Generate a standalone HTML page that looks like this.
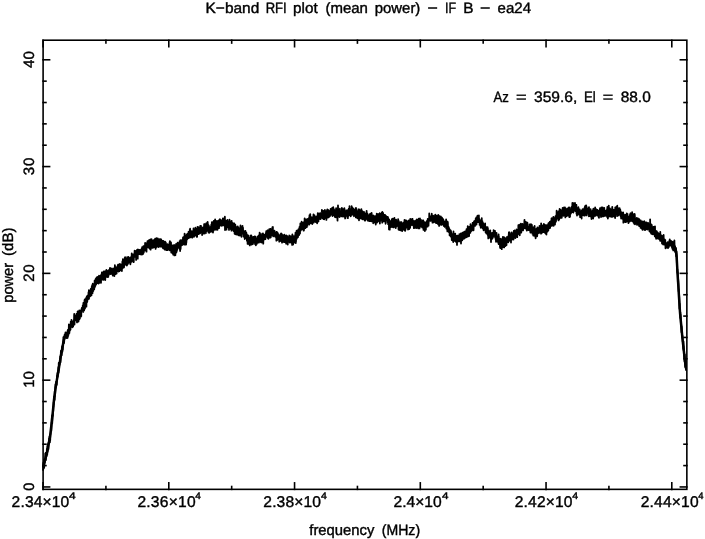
<!DOCTYPE html>
<html><head><meta charset="utf-8">
<style>
html,body{margin:0;padding:0;background:#fff;}
body{width:705px;height:539px;overflow:hidden;}
svg{display:block;filter:grayscale(1);}
text{font-family:"Liberation Sans",sans-serif;text-rendering:geometricPrecision;fill:#000;stroke:#000;stroke-width:0.4px;}
</style></head><body>
<svg width="705" height="539" viewBox="0 0 705 539">
<rect x="0" y="0" width="705" height="539" fill="#fff"/>
<g stroke="#000" fill="none" stroke-linecap="square">
<rect x="43.1" y="40.2" width="643.75" height="449.15" stroke-width="1.6"/>
<line x1="43.05" y1="489.35" x2="43.05" y2="482.85" stroke-width="1.6"/><line x1="43.05" y1="40.20" x2="43.05" y2="46.70" stroke-width="1.6"/><line x1="105.92" y1="489.35" x2="105.92" y2="486.50" stroke-width="1.6"/><line x1="105.92" y1="40.20" x2="105.92" y2="43.05" stroke-width="1.6"/><line x1="168.80" y1="489.35" x2="168.80" y2="482.85" stroke-width="1.6"/><line x1="168.80" y1="40.20" x2="168.80" y2="46.70" stroke-width="1.6"/><line x1="231.68" y1="489.35" x2="231.68" y2="486.50" stroke-width="1.6"/><line x1="231.68" y1="40.20" x2="231.68" y2="43.05" stroke-width="1.6"/><line x1="294.55" y1="489.35" x2="294.55" y2="482.85" stroke-width="1.6"/><line x1="294.55" y1="40.20" x2="294.55" y2="46.70" stroke-width="1.6"/><line x1="357.43" y1="489.35" x2="357.43" y2="486.50" stroke-width="1.6"/><line x1="357.43" y1="40.20" x2="357.43" y2="43.05" stroke-width="1.6"/><line x1="420.30" y1="489.35" x2="420.30" y2="482.85" stroke-width="1.6"/><line x1="420.30" y1="40.20" x2="420.30" y2="46.70" stroke-width="1.6"/><line x1="483.18" y1="489.35" x2="483.18" y2="486.50" stroke-width="1.6"/><line x1="483.18" y1="40.20" x2="483.18" y2="43.05" stroke-width="1.6"/><line x1="546.05" y1="489.35" x2="546.05" y2="482.85" stroke-width="1.6"/><line x1="546.05" y1="40.20" x2="546.05" y2="46.70" stroke-width="1.6"/><line x1="608.92" y1="489.35" x2="608.92" y2="486.50" stroke-width="1.6"/><line x1="608.92" y1="40.20" x2="608.92" y2="43.05" stroke-width="1.6"/><line x1="671.80" y1="489.35" x2="671.80" y2="482.85" stroke-width="1.6"/><line x1="671.80" y1="40.20" x2="671.80" y2="46.70" stroke-width="1.6"/><line x1="43.10" y1="486.95" x2="49.60" y2="486.95" stroke-width="1.6"/><line x1="686.85" y1="486.95" x2="680.35" y2="486.95" stroke-width="1.6"/><line x1="43.10" y1="465.59" x2="45.95" y2="465.59" stroke-width="1.6"/><line x1="686.85" y1="465.59" x2="684.00" y2="465.59" stroke-width="1.6"/><line x1="43.10" y1="444.23" x2="45.95" y2="444.23" stroke-width="1.6"/><line x1="686.85" y1="444.23" x2="684.00" y2="444.23" stroke-width="1.6"/><line x1="43.10" y1="422.88" x2="45.95" y2="422.88" stroke-width="1.6"/><line x1="686.85" y1="422.88" x2="684.00" y2="422.88" stroke-width="1.6"/><line x1="43.10" y1="401.52" x2="45.95" y2="401.52" stroke-width="1.6"/><line x1="686.85" y1="401.52" x2="684.00" y2="401.52" stroke-width="1.6"/><line x1="43.10" y1="380.16" x2="49.60" y2="380.16" stroke-width="1.6"/><line x1="686.85" y1="380.16" x2="680.35" y2="380.16" stroke-width="1.6"/><line x1="43.10" y1="358.80" x2="45.95" y2="358.80" stroke-width="1.6"/><line x1="686.85" y1="358.80" x2="684.00" y2="358.80" stroke-width="1.6"/><line x1="43.10" y1="337.44" x2="45.95" y2="337.44" stroke-width="1.6"/><line x1="686.85" y1="337.44" x2="684.00" y2="337.44" stroke-width="1.6"/><line x1="43.10" y1="316.09" x2="45.95" y2="316.09" stroke-width="1.6"/><line x1="686.85" y1="316.09" x2="684.00" y2="316.09" stroke-width="1.6"/><line x1="43.10" y1="294.73" x2="45.95" y2="294.73" stroke-width="1.6"/><line x1="686.85" y1="294.73" x2="684.00" y2="294.73" stroke-width="1.6"/><line x1="43.10" y1="273.37" x2="49.60" y2="273.37" stroke-width="1.6"/><line x1="686.85" y1="273.37" x2="680.35" y2="273.37" stroke-width="1.6"/><line x1="43.10" y1="252.01" x2="45.95" y2="252.01" stroke-width="1.6"/><line x1="686.85" y1="252.01" x2="684.00" y2="252.01" stroke-width="1.6"/><line x1="43.10" y1="230.65" x2="45.95" y2="230.65" stroke-width="1.6"/><line x1="686.85" y1="230.65" x2="684.00" y2="230.65" stroke-width="1.6"/><line x1="43.10" y1="209.30" x2="45.95" y2="209.30" stroke-width="1.6"/><line x1="686.85" y1="209.30" x2="684.00" y2="209.30" stroke-width="1.6"/><line x1="43.10" y1="187.94" x2="45.95" y2="187.94" stroke-width="1.6"/><line x1="686.85" y1="187.94" x2="684.00" y2="187.94" stroke-width="1.6"/><line x1="43.10" y1="166.58" x2="49.60" y2="166.58" stroke-width="1.6"/><line x1="686.85" y1="166.58" x2="680.35" y2="166.58" stroke-width="1.6"/><line x1="43.10" y1="145.22" x2="45.95" y2="145.22" stroke-width="1.6"/><line x1="686.85" y1="145.22" x2="684.00" y2="145.22" stroke-width="1.6"/><line x1="43.10" y1="123.86" x2="45.95" y2="123.86" stroke-width="1.6"/><line x1="686.85" y1="123.86" x2="684.00" y2="123.86" stroke-width="1.6"/><line x1="43.10" y1="102.51" x2="45.95" y2="102.51" stroke-width="1.6"/><line x1="686.85" y1="102.51" x2="684.00" y2="102.51" stroke-width="1.6"/><line x1="43.10" y1="81.15" x2="45.95" y2="81.15" stroke-width="1.6"/><line x1="686.85" y1="81.15" x2="684.00" y2="81.15" stroke-width="1.6"/><line x1="43.10" y1="59.79" x2="49.60" y2="59.79" stroke-width="1.6"/><line x1="686.85" y1="59.79" x2="680.35" y2="59.79" stroke-width="1.6"/>
</g>
<path d="M43 468.9 43.12 470.1 43.25 463.5 43.38 462.3 43.50 464.5 43.62 467.2 43.75 468.4 43.88 468.2 44 464.3 44.12 459.4 44.25 467.1 44.38 464.4 44.50 463.2 44.62 463.0 44.75 459.1 44.88 462.5 45 459.6 45.12 460.9 45.25 453.4 45.38 458.5 45.50 458.6 45.62 458.2 45.75 452.8 45.88 460.1 46 453.3 46.12 453.3 46.25 454.2 46.38 454.5 46.50 452.8 46.62 456.0 46.75 452.1 46.88 449.0 47 448.7 47.12 452.7 47.25 454.6 47.38 445.8 47.50 449.6 47.62 451.7 47.75 446.1 47.88 444.1 48 446.4 48.12 449.7 48.25 445.7 48.38 443.0 48.50 448.9 48.62 442.9 48.75 442.8 48.88 441.0 49 438.6 49.12 443.4 49.25 440.8 49.38 436.9 49.50 442.5 49.62 441.8 49.75 438.1 49.88 442.3 50 438.4 50.12 440.6 50.25 439.7 50.38 434.3 50.50 434.9 50.62 433.6 50.75 433.2 50.88 431.3 51 427.0 51.12 426.7 51.25 426.3 51.38 430.7 51.50 426.0 51.62 422.2 51.75 422.8 51.88 416.0 52 423.4 52.12 420.3 52.25 423.2 52.38 418.6 52.50 414.9 52.62 415.4 52.75 415.3 52.88 416.1 53 408.3 53.12 408.4 53.25 411.3 53.38 406.1 53.50 406.9 53.62 402.2 53.75 404.8 53.88 397.1 54 397.5 54.12 396.5 54.25 397.2 54.38 396.7 54.50 398.9 54.62 400.1 54.75 391.2 54.88 396.4 55 390.3 55.12 394.2 55.25 386.8 55.38 388.5 55.50 384.1 55.62 385.9 55.75 385.4 55.88 386.8 56 382.0 56.12 382.4 56.25 383.5 56.38 383.4 56.50 383.4 56.62 383.3 56.75 384.9 56.88 381.8 57 375.7 57.12 378.8 57.25 377.2 57.38 373.5 57.50 375.3 57.62 372.3 57.75 376.5 57.88 371.1 58 373.9 58.12 371.2 58.25 368.1 58.38 366.8 58.50 372.6 58.62 371.0 58.75 362.9 58.88 370.1 59 366.7 59.12 365.1 59.25 364.1 59.38 364.2 59.50 365.0 59.62 364.0 59.75 362.7 59.88 361.4 60 358.5 60.12 361.0 60.25 356.3 60.38 357.8 60.50 362.1 60.62 358.6 60.75 357.8 60.88 350.9 61 353.6 61.12 350.6 61.25 355.6 61.38 350.3 61.50 351.1 61.62 355.4 61.75 353.3 61.88 347.2 62 351.9 62.12 346.3 62.25 347.2 62.38 351.7 62.50 349.1 62.62 345.4 62.75 349.8 62.88 343.3 63 345.5 63.12 342.6 63.25 342.5 63.38 337.2 63.50 341.8 63.62 340.3 63.75 341.0 63.88 338.5 64 342.1 64.12 343.0 64.25 340.0 64.38 336.5 64.50 335.1 64.62 334.8 64.75 335.0 64.88 337.8 65 336.4 65.12 335.8 65.25 333.5 65.38 337.5 65.50 332.3 65.62 337.4 65.75 337.4 65.88 332.7 66 336.6 66.12 334.0 66.25 336.8 66.38 336.2 66.50 333.4 66.62 333.0 66.75 334.5 66.88 338.2 67 337.9 67.12 334.0 67.25 337.1 67.38 331.7 67.50 337.9 67.62 330.7 67.75 335.0 67.88 336.7 68 329.6 68.12 335.3 68.25 335.8 68.38 330.0 68.50 334.8 68.62 329.1 68.75 330.1 68.88 324.5 69 332.3 69.12 324.6 69.25 328.6 69.38 333.0 69.50 325.0 69.62 329.1 69.75 328.3 69.88 325.5 70 330.6 70.12 324.8 70.25 326.6 70.38 328.1 70.50 329.7 70.62 325.4 70.75 321.6 70.88 326.6 71 324.0 71.12 324.6 71.25 322.5 71.38 321.8 71.50 319.9 71.62 325.3 71.75 321.0 71.88 323.7 72 323.6 72.12 325.6 72.25 327.3 72.38 321.6 72.50 326.9 72.62 323.8 72.75 326.3 72.88 321.7 73 325.2 73.12 326.6 73.25 324.1 73.38 321.3 73.50 321.8 73.62 320.6 73.75 323.7 73.88 319.8 74 323.1 74.12 315.5 74.25 313.9 74.38 321.4 74.50 324.5 74.62 317.5 74.75 315.3 74.88 317.7 75 320.5 75.12 316.8 75.25 316.8 75.38 317.3 75.50 315.8 75.62 317.7 75.75 316.2 75.88 318.2 76 319.2 76.12 320.5 76.25 318.3 76.38 319.6 76.50 314.0 76.62 314.4 76.75 315.4 76.88 319.2 77 322.4 77.12 320.0 77.25 317.5 77.38 320.1 77.50 320.1 77.62 311.3 77.75 319.5 77.88 317.8 78 315.1 78.12 313.4 78.25 313.6 78.38 316.5 78.50 321.5 78.62 318.8 78.75 313.5 78.88 315.2 79 313.4 79.12 312.6 79.25 310.3 79.38 319.3 79.50 315.2 79.62 316.8 79.75 314.4 79.88 318.5 80 315.5 80.12 311.2 80.25 315.9 80.38 312.4 80.50 315.5 80.62 312.6 80.75 313.1 80.88 310.7 81 310.5 81.12 312.1 81.25 316.4 81.38 309.7 81.50 309.4 81.62 309.0 81.75 308.0 81.88 309.8 82 309.1 82.12 310.3 82.25 309.7 82.38 308.5 82.50 308.2 82.62 310.3 82.75 305.4 82.88 307.4 83 307.7 83.12 307.6 83.25 311.9 83.38 302.8 83.50 306.1 83.62 305.5 83.75 303.9 83.88 307.2 84 304.1 84.12 310.4 84.25 307.4 84.38 308.1 84.50 300.3 84.62 302.2 84.75 299.3 84.88 301.1 85 308.6 85.12 303.3 85.25 302.2 85.38 302.2 85.50 305.1 85.62 304.3 85.75 301.3 85.88 302.4 86 298.6 86.12 298.0 86.25 298.2 86.38 306.7 86.50 301.6 86.62 299.9 86.75 296.5 86.88 298.0 87 300.8 87.12 300.6 87.25 302.0 87.38 296.8 87.50 295.6 87.62 296.9 87.75 296.2 87.88 299.4 88 296.6 88.12 298.2 88.25 297.2 88.38 296.6 88.50 292.3 88.62 292.4 88.75 294.4 88.88 290.2 89 298.8 89.12 293.8 89.25 292.5 89.38 292.2 89.50 296.8 89.62 292.2 89.75 294.6 89.88 296.2 90 290.9 90.12 290.6 90.25 294.7 90.38 296.2 90.50 290.7 90.62 294.2 90.75 288.9 90.88 292.3 91 290.0 91.12 292.8 91.25 292.5 91.38 290.3 91.50 295.3 91.62 289.7 91.75 286.6 91.88 287.1 92 290.4 92.12 285.2 92.25 287.6 92.38 287.0 92.50 293.2 92.62 290.0 92.75 283.7 92.88 288.6 93 287.6 93.12 289.0 93.25 291.0 93.38 290.4 93.50 287.8 93.62 289.1 93.75 285.5 93.88 287.2 94 289.5 94.12 286.8 94.25 289.2 94.38 285.2 94.50 286.3 94.62 280.6 94.75 282.1 94.88 284.5 95 287.0 95.12 285.6 95.25 286.2 95.38 281.8 95.50 284.4 95.62 279.1 95.75 282.1 95.88 282.6 96 278.3 96.12 284.6 96.25 278.2 96.38 283.1 96.50 283.6 96.62 282.6 96.75 280.4 96.88 279.5 97 278.6 97.12 279.7 97.25 276.9 97.38 280.8 97.50 283.1 97.62 281.5 97.75 280.7 97.88 278.6 98 281.9 98.12 282.3 98.25 282.5 98.38 282.8 98.50 283.7 98.62 280.2 98.75 280.1 98.88 276.1 99 275.8 99.12 282.9 99.25 276.9 99.38 281.7 99.50 276.8 99.62 279.7 99.75 282.6 99.88 280.1 100 276.9 100.12 279.5 100.25 278.6 100.38 279.1 100.50 276.8 100.62 275.3 100.75 279.0 100.88 280.7 101 282.8 101.12 276.0 101.25 277.7 101.38 280.0 101.50 277.3 101.62 274.9 101.75 273.6 101.88 272.5 102 275.0 102.12 272.4 102.25 276.7 102.38 276.4 102.50 277.8 102.62 273.4 102.75 276.6 102.88 279.1 103 279.9 103.12 279.9 103.25 272.9 103.38 277.0 103.50 279.8 103.62 274.9 103.75 271.5 103.88 277.8 104 274.4 104.12 273.4 104.25 275.9 104.38 276.2 104.50 271.6 104.62 277.4 104.75 275.5 104.88 271.3 105 274.8 105.12 271.3 105.25 280.0 105.38 272.9 105.50 277.1 105.62 276.4 105.75 272.5 105.88 273.6 106 276.7 106.12 272.8 106.25 276.9 106.38 270.0 106.50 276.3 106.62 271.5 106.75 273.2 106.88 272.5 107 276.0 107.12 275.5 107.25 275.9 107.38 273.2 107.50 275.7 107.62 277.2 107.75 274.1 107.88 276.1 108 273.2 108.12 270.7 108.25 276.9 108.38 270.5 108.50 271.9 108.62 274.5 108.75 270.6 108.88 275.0 109 273.7 109.12 270.8 109.25 272.7 109.38 271.9 109.50 269.7 109.62 269.3 109.75 269.4 109.88 268.7 110 268.0 110.12 270.3 110.25 272.6 110.38 269.2 110.50 269.6 110.62 274.1 110.75 273.8 110.88 272.4 111 272.6 111.12 268.4 111.25 273.8 111.38 271.5 111.50 269.3 111.62 271.3 111.75 272.9 111.88 272.4 112 271.2 112.12 273.0 112.25 274.2 112.38 270.0 112.50 269.0 112.62 269.9 112.75 275.6 112.88 271.4 113 271.7 113.12 268.4 113.25 272.9 113.38 272.9 113.50 273.7 113.62 272.8 113.75 271.8 113.88 271.5 114 270.1 114.12 270.3 114.25 268.6 114.38 276.0 114.50 270.9 114.62 268.8 114.75 273.2 114.88 265.1 115 267.0 115.12 270.1 115.25 269.1 115.38 267.4 115.50 272.8 115.62 274.2 115.75 269.8 115.88 267.2 116 272.4 116.12 268.1 116.25 267.6 116.38 272.2 116.50 271.7 116.62 273.6 116.75 268.0 116.88 270.5 117 269.1 117.12 268.5 117.25 270.2 117.38 267.2 117.50 266.9 117.62 265.8 117.75 271.1 117.88 269.3 118 264.7 118.12 268.2 118.25 270.8 118.38 268.3 118.50 265.1 118.62 271.5 118.75 268.0 118.88 267.5 119 266.1 119.12 264.4 119.25 268.8 119.38 270.9 119.50 268.5 119.62 271.0 119.75 267.6 119.88 263.9 120 265.6 120.12 266.1 120.25 265.5 120.38 267.6 120.50 266.4 120.62 267.3 120.75 266.9 120.88 270.1 121 268.2 121.12 267.0 121.25 269.0 121.38 268.9 121.50 264.5 121.62 266.0 121.75 267.1 121.88 271.0 122 267.8 122.12 264.0 122.25 264.8 122.38 261.5 122.50 265.3 122.62 268.2 122.75 267.3 122.88 259.1 123 262.1 123.12 262.0 123.25 263.9 123.38 263.0 123.50 266.6 123.62 262.8 123.75 264.5 123.88 260.1 124 267.5 124.12 265.7 124.25 260.6 124.38 261.8 124.50 262.9 124.62 260.6 124.75 257.8 124.88 259.4 125 264.1 125.12 257.1 125.25 261.3 125.38 263.8 125.50 259.9 125.62 262.6 125.75 260.8 125.88 262.7 126 264.9 126.12 263.5 126.25 264.6 126.38 263.4 126.50 263.0 126.62 258.6 126.75 260.3 126.88 265.6 127 265.2 127.12 257.1 127.25 258.1 127.38 259.3 127.50 261.7 127.62 257.4 127.75 258.8 127.88 261.9 128 263.8 128.12 262.4 128.25 263.2 128.38 261.2 128.50 256.9 128.62 257.5 128.75 261.3 128.88 259.0 129 259.0 129.12 259.5 129.25 259.2 129.38 257.9 129.50 261.1 129.62 262.5 129.75 260.7 129.88 262.1 130 261.2 130.12 263.1 130.25 261.8 130.38 264.3 130.50 261.0 130.62 262.9 130.75 262.5 130.88 257.2 131 260.4 131.12 261.8 131.25 259.1 131.38 258.1 131.50 256.3 131.62 256.5 131.75 253.4 131.88 261.6 132 259.0 132.12 260.7 132.25 259.6 132.38 256.5 132.50 257.8 132.62 255.9 132.75 255.6 132.88 256.5 133 258.0 133.12 258.9 133.25 254.5 133.38 259.7 133.50 255.7 133.62 259.1 133.75 262.1 133.88 256.2 134 255.8 134.12 255.1 134.25 254.6 134.38 256.1 134.50 253.2 134.62 250.7 134.75 253.6 134.88 253.5 135 256.9 135.12 256.5 135.25 252.2 135.38 253.4 135.50 251.1 135.62 254.7 135.75 251.3 135.88 252.3 136 254.4 136.12 259.9 136.25 255.3 136.38 258.2 136.50 251.0 136.62 253.0 136.75 254.6 136.88 255.9 137 249.8 137.12 255.5 137.25 252.6 137.38 255.4 137.50 254.2 137.62 251.2 137.75 258.7 137.88 249.5 138 251.2 138.12 252.2 138.25 250.9 138.38 250.1 138.50 253.4 138.62 250.0 138.75 251.9 138.88 252.0 139 251.5 139.12 251.7 139.25 249.8 139.38 251.4 139.50 254.2 139.62 250.7 139.75 253.9 139.88 254.0 140 252.4 140.12 250.5 140.25 251.4 140.38 251.4 140.50 254.4 140.62 253.2 140.75 253.0 140.88 252.6 141 253.0 141.12 249.5 141.25 251.7 141.38 251.6 141.50 251.4 141.62 253.6 141.75 254.7 141.88 252.4 142 252.5 142.12 247.1 142.25 249.6 142.38 252.2 142.50 252.4 142.62 254.4 142.75 251.4 142.88 250.1 143 254.0 143.12 250.6 143.25 248.4 143.38 246.2 143.50 252.4 143.62 251.5 143.75 252.8 143.88 250.3 144 250.7 144.12 251.0 144.25 246.8 144.38 249.4 144.50 245.8 144.62 248.7 144.75 247.0 144.88 250.6 145 245.9 145.12 243.0 145.25 246.1 145.38 243.8 145.50 249.1 145.62 243.5 145.75 249.0 145.88 244.6 146 250.3 146.12 243.3 146.25 243.6 146.38 248.8 146.50 251.7 146.62 243.3 146.75 244.9 146.88 245.7 147 245.1 147.12 243.0 147.25 245.2 147.38 243.7 147.50 241.1 147.62 246.8 147.75 241.4 147.88 245.6 148 245.3 148.12 243.6 148.25 247.5 148.38 240.8 148.50 242.3 148.62 242.4 148.75 243.7 148.88 247.7 149 240.2 149.12 245.2 149.25 241.3 149.38 244.1 149.50 240.2 149.62 242.5 149.75 248.7 149.88 246.0 150 242.0 150.12 241.3 150.25 244.6 150.38 244.2 150.50 239.4 150.62 249.7 150.75 247.1 150.88 246.2 151 241.1 151.12 241.7 151.25 247.7 151.38 242.9 151.50 239.1 151.62 239.5 151.75 241.4 151.88 245.0 152 247.2 152.12 242.9 152.25 247.9 152.38 242.1 152.50 245.0 152.62 245.8 152.75 244.0 152.88 243.0 153 246.4 153.12 245.7 153.25 240.4 153.38 243.1 153.50 247.6 153.62 245.8 153.75 240.1 153.88 243.6 154 243.1 154.12 240.2 154.25 247.1 154.38 245.3 154.50 240.7 154.62 245.3 154.75 240.9 154.88 241.1 155 242.8 155.12 238.7 155.25 245.2 155.38 240.9 155.50 246.5 155.62 248.9 155.75 246.6 155.88 241.7 156 241.4 156.12 244.3 156.25 244.4 156.38 247.1 156.50 238.1 156.62 240.7 156.75 245.4 156.88 245.3 157 239.6 157.12 243.0 157.25 239.3 157.38 244.3 157.50 242.7 157.62 244.5 157.75 238.3 157.88 242.2 158 246.7 158.12 246.7 158.25 244.3 158.38 240.7 158.50 247.1 158.62 242.3 158.75 242.7 158.88 243.0 159 241.5 159.12 242.8 159.25 244.9 159.38 239.1 159.50 239.8 159.62 241.4 159.75 241.8 159.88 244.4 160 241.2 160.12 243.2 160.25 246.7 160.38 239.1 160.50 240.6 160.62 245.9 160.75 239.4 160.88 244.5 161 245.6 161.12 243.1 161.25 239.5 161.38 241.3 161.50 243.9 161.62 246.3 161.75 244.2 161.88 246.8 162 244.8 162.12 243.7 162.25 246.3 162.38 241.0 162.50 246.4 162.62 245.1 162.75 242.8 162.88 244.7 163 248.3 163.12 243.8 163.25 244.1 163.38 240.8 163.50 248.6 163.62 244.2 163.75 246.2 163.88 247.7 164 247.5 164.12 245.3 164.25 242.2 164.38 247.0 164.50 242.3 164.62 242.5 164.75 242.7 164.88 249.7 165 245.2 165.12 241.7 165.25 247.2 165.38 244.0 165.50 247.7 165.62 243.7 165.75 242.4 165.88 244.3 166 245.3 166.12 249.6 166.25 246.9 166.38 245.5 166.50 250.2 166.62 245.4 166.75 249.3 166.88 249.9 167 249.8 167.12 244.3 167.25 247.0 167.38 244.1 167.50 250.2 167.62 244.8 167.75 245.5 167.88 244.5 168 245.1 168.12 249.6 168.25 245.2 168.38 249.5 168.50 246.3 168.62 249.1 168.75 247.4 168.88 245.5 169 248.6 169.12 245.6 169.25 249.0 169.38 246.4 169.50 244.1 169.62 242.2 169.75 250.3 169.88 241.1 170 246.5 170.12 249.5 170.25 243.6 170.38 245.3 170.50 246.5 170.62 248.5 170.75 242.7 170.88 250.0 171 242.4 171.12 247.4 171.25 252.6 171.38 247.4 171.50 249.5 171.62 246.2 171.75 247.3 171.88 252.1 172 248.1 172.12 250.9 172.25 252.3 172.38 253.1 172.50 247.6 172.62 245.5 172.75 253.5 172.88 249.5 173 252.1 173.12 250.9 173.25 254.7 173.38 250.0 173.50 251.4 173.62 247.9 173.75 252.6 173.88 246.0 174 253.0 174.12 245.0 174.25 253.1 174.38 255.4 174.50 248.9 174.62 251.4 174.75 250.4 174.88 247.6 175 255.3 175.12 250.4 175.25 249.5 175.38 255.2 175.50 249.3 175.62 247.2 175.75 251.4 175.88 245.0 176 251.0 176.12 244.0 176.25 252.6 176.38 247.3 176.50 250.3 176.62 251.9 176.75 249.1 176.88 246.6 177 250.2 177.12 246.5 177.25 249.6 177.38 248.4 177.50 244.7 177.62 242.6 177.75 248.0 177.88 245.3 178 245.0 178.12 244.5 178.25 247.9 178.38 243.9 178.50 247.8 178.62 247.4 178.75 244.2 178.88 243.0 179 246.1 179.12 247.9 179.25 243.8 179.38 245.1 179.50 247.0 179.62 241.2 179.75 248.9 179.88 244.1 180 242.4 180.12 251.0 180.25 246.7 180.38 240.2 180.50 242.3 180.62 248.9 180.75 245.9 180.88 242.0 181 243.2 181.12 241.0 181.25 245.5 181.38 241.3 181.50 244.9 181.62 245.4 181.75 240.1 181.88 244.3 182 242.2 182.12 242.0 182.25 240.1 182.38 244.9 182.50 244.0 182.62 243.1 182.75 244.8 182.88 241.3 183 237.5 183.12 244.0 183.25 242.8 183.38 240.4 183.50 243.6 183.62 237.5 183.75 238.2 183.88 237.0 184 240.9 184.12 243.5 184.25 240.8 184.38 244.5 184.50 238.0 184.62 233.6 184.75 238.5 184.88 234.8 185 238.5 185.12 239.5 185.25 238.4 185.38 239.3 185.50 239.3 185.62 244.5 185.75 243.5 185.88 237.3 186 244.0 186.12 244.5 186.25 241.1 186.38 242.5 186.50 239.1 186.62 235.7 186.75 234.5 186.88 235.2 187 239.5 187.12 236.9 187.25 238.9 187.38 233.9 187.50 238.6 187.62 236.3 187.75 238.0 187.88 236.1 188 235.1 188.12 236.5 188.25 237.7 188.38 236.7 188.50 231.9 188.62 238.1 188.75 233.1 188.88 233.7 189 233.6 189.12 237.2 189.25 235.8 189.38 237.2 189.50 237.6 189.62 233.6 189.75 229.8 189.88 232.4 190 237.4 190.12 228.7 190.25 230.4 190.38 236.4 190.50 237.4 190.62 236.3 190.75 233.1 190.88 233.7 191 236.4 191.12 235.0 191.25 232.6 191.38 236.0 191.50 234.5 191.62 231.4 191.75 234.2 191.88 231.2 192 232.3 192.12 235.2 192.25 237.7 192.38 234.1 192.50 236.9 192.62 234.9 192.75 233.8 192.88 235.9 193 231.7 193.12 235.0 193.25 232.8 193.38 236.5 193.50 228.5 193.62 235.4 193.75 235.7 193.88 231.3 194 236.8 194.12 232.6 194.25 233.5 194.38 232.6 194.50 235.9 194.62 233.0 194.75 235.3 194.88 233.6 195 229.9 195.12 232.3 195.25 235.6 195.38 227.7 195.50 234.3 195.62 233.7 195.75 234.1 195.88 228.6 196 234.8 196.12 233.6 196.25 233.9 196.38 229.4 196.50 230.2 196.62 233.2 196.75 229.7 196.88 236.9 197 234.1 197.12 236.7 197.25 230.8 197.38 233.8 197.50 226.8 197.62 227.8 197.75 231.1 197.88 230.2 198 232.6 198.12 230.1 198.25 227.2 198.38 234.1 198.50 229.8 198.62 229.3 198.75 234.0 198.88 233.3 199 232.6 199.12 230.1 199.25 232.1 199.38 227.5 199.50 232.5 199.62 230.6 199.75 232.2 199.88 227.7 200 227.6 200.12 233.3 200.25 225.8 200.38 229.9 200.50 229.1 200.62 231.9 200.75 230.6 200.88 231.8 201 225.8 201.12 228.9 201.25 228.9 201.38 232.4 201.50 230.4 201.62 230.1 201.75 231.2 201.88 230.8 202 230.9 202.12 235.0 202.25 232.4 202.38 231.6 202.50 229.6 202.62 233.8 202.75 231.5 202.88 227.5 203 228.6 203.12 231.0 203.25 231.1 203.38 232.3 203.50 227.3 203.62 233.0 203.75 233.5 203.88 230.9 204 232.2 204.12 224.2 204.25 225.9 204.38 224.1 204.50 232.1 204.62 230.5 204.75 233.5 204.88 226.1 205 232.8 205.12 230.2 205.25 226.0 205.38 231.0 205.50 228.6 205.62 224.9 205.75 226.4 205.88 229.4 206 232.9 206.12 223.3 206.25 228.9 206.38 223.4 206.50 231.1 206.62 225.1 206.75 231.1 206.88 229.1 207 227.1 207.12 230.2 207.25 226.5 207.38 227.7 207.50 225.3 207.62 221.9 207.75 223.0 207.88 225.6 208 230.4 208.12 227.9 208.25 227.9 208.38 225.3 208.50 232.5 208.62 232.3 208.75 225.4 208.88 227.4 209 228.6 209.12 226.8 209.25 232.8 209.38 229.7 209.50 230.7 209.62 228.9 209.75 228.2 209.88 228.8 210 229.5 210.12 228.2 210.25 227.2 210.38 230.4 210.50 230.2 210.62 231.9 210.75 228.2 210.88 226.6 211 227.2 211.12 226.7 211.25 224.7 211.38 227.3 211.50 230.2 211.62 226.1 211.75 223.8 211.88 222.1 212 230.9 212.12 226.7 212.25 231.8 212.38 228.7 212.50 229.7 212.62 228.9 212.75 230.0 212.88 225.8 213 232.6 213.12 227.7 213.25 221.9 213.38 227.1 213.50 224.4 213.62 230.6 213.75 221.0 213.88 226.8 214 224.3 214.12 227.2 214.25 224.1 214.38 229.7 214.50 224.9 214.62 224.9 214.75 228.6 214.88 222.9 215 226.4 215.12 219.3 215.25 227.1 215.38 229.1 215.50 224.7 215.62 225.0 215.75 228.2 215.88 222.0 216 229.8 216.12 225.7 216.25 223.9 216.38 223.6 216.50 226.1 216.62 229.1 216.75 223.2 216.88 220.9 217 229.1 217.12 227.9 217.25 223.1 217.38 225.1 217.50 229.8 217.62 225.6 217.75 225.7 217.88 227.4 218 221.5 218.12 222.6 218.25 223.3 218.38 221.0 218.50 224.8 218.62 220.5 218.75 224.5 218.88 222.2 219 228.1 219.12 224.9 219.25 226.2 219.38 225.1 219.50 224.6 219.62 221.9 219.75 225.4 219.88 219.2 220 222.9 220.12 222.0 220.25 220.4 220.38 225.1 220.50 224.6 220.62 220.5 220.75 221.1 220.88 223.3 221 220.1 221.12 220.8 221.25 225.8 221.38 222.7 221.50 224.6 221.62 224.6 221.75 224.0 221.88 222.4 222 225.7 222.12 225.2 222.25 220.1 222.38 222.7 222.50 224.8 222.62 221.0 222.75 225.3 222.88 218.5 223 222.7 223.12 221.2 223.25 220.8 223.38 225.0 223.50 219.7 223.62 222.2 223.75 223.1 223.88 225.2 224 221.8 224.12 220.4 224.25 224.6 224.38 225.9 224.50 218.0 224.62 222.1 224.75 222.0 224.88 216.7 225 230.1 225.12 223.3 225.25 225.1 225.38 225.2 225.50 223.5 225.62 224.8 225.75 222.8 225.88 220.9 226 224.1 226.12 220.6 226.25 221.9 226.38 227.2 226.50 229.7 226.62 224.7 226.75 221.1 226.88 222.0 227 223.7 227.12 225.1 227.25 221.6 227.38 226.3 227.50 220.0 227.62 222.1 227.75 221.4 227.88 222.6 228 223.5 228.12 224.2 228.25 227.5 228.38 225.8 228.50 224.4 228.62 226.4 228.75 223.6 228.88 223.4 229 229.9 229.12 222.0 229.25 224.5 229.38 224.6 229.50 219.7 229.62 220.4 229.75 223.8 229.88 226.1 230 222.6 230.12 225.3 230.25 225.1 230.38 224.5 230.50 222.2 230.62 227.6 230.75 226.6 230.88 229.1 231 225.9 231.12 227.7 231.25 221.8 231.38 222.9 231.50 230.7 231.62 220.8 231.75 225.8 231.88 230.0 232 222.6 232.12 227.2 232.25 224.7 232.38 224.9 232.50 228.0 232.62 226.2 232.75 226.3 232.88 224.5 233 225.5 233.12 223.2 233.25 223.4 233.38 225.7 233.50 225.4 233.62 231.1 233.75 225.0 233.88 227.7 234 226.2 234.12 228.5 234.25 229.6 234.38 223.3 234.50 231.0 234.62 233.8 234.75 225.8 234.88 230.0 235 227.8 235.12 231.8 235.25 229.6 235.38 225.0 235.50 229.5 235.62 234.3 235.75 232.1 235.88 229.3 236 228.8 236.12 230.8 236.25 232.3 236.38 230.9 236.50 233.7 236.62 229.7 236.75 234.6 236.88 231.1 237 230.1 237.12 231.4 237.25 226.7 237.38 230.8 237.50 234.7 237.62 228.3 237.75 226.5 237.88 231.6 238 233.0 238.12 230.7 238.25 227.5 238.38 232.3 238.50 234.2 238.62 235.3 238.75 234.4 238.88 232.5 239 231.2 239.12 231.8 239.25 231.8 239.38 232.2 239.50 228.5 239.62 230.6 239.75 230.8 239.88 235.5 240 230.9 240.12 229.8 240.25 226.8 240.38 227.0 240.50 225.5 240.62 229.4 240.75 235.3 240.88 227.0 241 228.6 241.12 233.8 241.25 230.2 241.38 227.4 241.50 236.8 241.62 229.2 241.75 230.0 241.88 234.1 242 233.9 242.12 233.5 242.25 232.3 242.38 228.7 242.50 225.8 242.62 232.9 242.75 232.1 242.88 229.9 243 227.7 243.12 231.2 243.25 231.3 243.38 232.2 243.50 230.6 243.62 236.4 243.75 231.7 243.88 236.3 244 236.0 244.12 231.7 244.25 237.0 244.38 237.3 244.50 236.9 244.62 232.5 244.75 239.0 244.88 237.8 245 231.3 245.12 232.5 245.25 231.2 245.38 230.8 245.50 232.5 245.62 233.5 245.75 237.0 245.88 234.5 246 233.4 246.12 234.7 246.25 232.3 246.38 233.9 246.50 238.2 246.62 239.1 246.75 234.2 246.88 240.7 247 240.5 247.12 239.6 247.25 236.3 247.38 235.1 247.50 238.6 247.62 243.9 247.75 242.2 247.88 241.5 248 241.1 248.12 235.5 248.25 239.2 248.38 242.9 248.50 237.5 248.62 240.1 248.75 240.2 248.88 244.0 249 238.4 249.12 239.6 249.25 241.3 249.38 239.3 249.50 241.8 249.62 240.5 249.75 245.4 249.88 237.7 250 240.7 250.12 238.3 250.25 238.5 250.38 235.7 250.50 242.6 250.62 238.7 250.75 238.5 250.88 240.5 251 236.7 251.12 244.0 251.25 235.4 251.38 238.6 251.50 244.7 251.62 238.2 251.75 236.5 251.88 239.6 252 240.3 252.12 239.5 252.25 239.9 252.38 240.4 252.50 243.2 252.62 240.4 252.75 240.6 252.88 244.1 253 238.4 253.12 237.1 253.25 239.4 253.38 239.8 253.50 236.8 253.62 242.7 253.75 237.6 253.88 239.2 254 240.5 254.12 240.5 254.25 239.5 254.38 242.1 254.50 238.4 254.62 236.4 254.75 240.9 254.88 242.7 255 241.1 255.12 244.3 255.25 240.4 255.38 242.4 255.50 236.6 255.62 244.2 255.75 239.4 255.88 245.3 256 238.4 256.12 239.6 256.25 243.7 256.38 243.0 256.50 239.2 256.62 240.2 256.75 243.9 256.88 243.4 257 238.7 257.12 238.3 257.25 242.6 257.38 238.0 257.50 239.9 257.62 239.9 257.75 236.3 257.88 239.0 258 240.7 258.12 237.0 258.25 237.0 258.38 242.2 258.50 237.5 258.62 238.8 258.75 242.7 258.88 235.7 259 235.2 259.12 237.8 259.25 240.6 259.38 236.4 259.50 240.3 259.62 232.6 259.75 237.8 259.88 238.4 260 241.9 260.12 235.4 260.25 233.8 260.38 238.0 260.50 235.3 260.62 237.9 260.75 239.0 260.88 237.9 261 242.3 261.12 241.6 261.25 238.1 261.38 236.1 261.50 240.7 261.62 241.1 261.75 242.5 261.88 237.0 262 237.7 262.12 234.7 262.25 233.6 262.38 239.0 262.50 238.4 262.62 237.4 262.75 238.8 262.88 238.0 263 233.3 263.12 239.5 263.25 243.7 263.38 239.8 263.50 237.3 263.62 238.6 263.75 238.2 263.88 239.0 264 235.6 264.12 237.6 264.25 238.0 264.38 239.4 264.50 238.5 264.62 237.4 264.75 234.6 264.88 239.4 265 237.9 265.12 238.7 265.25 234.9 265.38 239.2 265.50 234.1 265.62 233.8 265.75 235.9 265.88 233.0 266 235.9 266.12 234.2 266.25 231.1 266.38 232.8 266.50 233.6 266.62 236.6 266.75 233.5 266.88 231.7 267 234.0 267.12 237.0 267.25 232.8 267.38 233.3 267.50 230.5 267.62 237.9 267.75 236.3 267.88 230.4 268 231.9 268.12 232.8 268.25 230.8 268.38 238.8 268.50 234.4 268.62 236.4 268.75 233.6 268.88 235.5 269 236.7 269.12 231.9 269.25 229.1 269.38 231.6 269.50 235.0 269.62 233.2 269.75 237.6 269.88 234.9 270 235.8 270.12 236.5 270.25 232.2 270.38 228.8 270.50 233.2 270.62 228.8 270.75 237.5 270.88 236.3 271 230.0 271.12 231.6 271.25 232.4 271.38 233.1 271.50 234.3 271.62 231.3 271.75 230.1 271.88 231.5 272 235.0 272.12 229.5 272.25 233.6 272.38 227.2 272.50 233.2 272.62 235.5 272.75 233.1 272.88 227.0 273 234.6 273.12 233.5 273.25 232.1 273.38 236.4 273.50 235.2 273.62 232.5 273.75 234.9 273.88 234.8 274 231.1 274.12 232.4 274.25 233.2 274.38 232.2 274.50 230.7 274.62 232.6 274.75 235.1 274.88 233.5 275 232.2 275.12 236.4 275.25 235.3 275.38 236.9 275.50 233.0 275.62 234.5 275.75 235.0 275.88 234.2 276 235.4 276.12 235.0 276.25 234.8 276.38 240.7 276.50 235.3 276.62 231.9 276.75 236.1 276.88 231.9 277 240.1 277.12 236.0 277.25 234.6 277.38 235.7 277.50 232.9 277.62 232.8 277.75 236.2 277.88 234.5 278 237.4 278.12 234.6 278.25 234.8 278.38 239.4 278.50 239.2 278.62 234.3 278.75 235.3 278.88 236.6 279 237.8 279.12 237.2 279.25 241.7 279.38 235.8 279.50 236.6 279.62 237.2 279.75 238.0 279.88 241.2 280 236.8 280.12 236.3 280.25 238.0 280.38 236.3 280.50 239.1 280.62 234.9 280.75 233.9 280.88 236.1 281 236.0 281.12 233.5 281.25 240.3 281.38 239.0 281.50 236.0 281.62 241.3 281.75 233.9 281.88 239.5 282 242.7 282.12 242.2 282.25 240.3 282.38 238.9 282.50 239.2 282.62 235.0 282.75 235.5 282.88 241.7 283 236.8 283.12 235.6 283.25 238.7 283.38 239.3 283.50 240.9 283.62 235.5 283.75 240.9 283.88 242.1 284 236.9 284.12 237.2 284.25 242.1 284.38 234.7 284.50 239.3 284.62 235.5 284.75 236.0 284.88 240.5 285 240.9 285.12 237.1 285.25 236.4 285.38 242.1 285.50 238.4 285.62 239.8 285.75 236.0 285.88 237.6 286 237.2 286.12 243.7 286.25 235.3 286.38 242.2 286.50 238.7 286.62 237.3 286.75 237.4 286.88 240.9 287 240.9 287.12 237.7 287.25 236.2 287.38 244.0 287.50 242.2 287.62 241.0 287.75 244.5 287.88 239.6 288 237.0 288.12 241.3 288.25 241.5 288.38 241.3 288.50 241.0 288.62 241.8 288.75 241.6 288.88 240.9 289 236.8 289.12 241.0 289.25 235.5 289.38 235.7 289.50 238.3 289.62 239.6 289.75 242.5 289.88 242.0 290 238.5 290.12 239.9 290.25 238.1 290.38 240.5 290.50 241.5 290.62 238.2 290.75 236.1 290.88 236.2 291 239.3 291.12 238.9 291.25 241.8 291.38 242.8 291.50 242.3 291.62 242.2 291.75 238.8 291.88 239.5 292 238.0 292.12 244.9 292.25 237.4 292.38 234.4 292.50 241.0 292.62 238.6 292.75 242.0 292.88 241.2 293 240.6 293.12 244.6 293.25 237.6 293.38 237.8 293.50 241.5 293.62 243.0 293.75 236.2 293.88 238.8 294 241.8 294.12 237.8 294.25 238.7 294.38 240.6 294.50 239.0 294.62 238.6 294.75 242.3 294.88 236.7 295 239.8 295.12 240.1 295.25 234.7 295.38 237.6 295.50 232.6 295.62 242.3 295.75 243.1 295.88 239.7 296 241.4 296.12 236.5 296.25 234.5 296.38 236.8 296.50 237.7 296.62 230.6 296.75 238.7 296.88 235.4 297 233.2 297.12 230.8 297.25 233.0 297.38 235.9 297.50 232.4 297.62 231.3 297.75 235.5 297.88 235.6 298 237.3 298.12 234.2 298.25 229.5 298.38 233.7 298.50 229.5 298.62 233.8 298.75 233.5 298.88 229.0 299 233.2 299.12 235.1 299.25 229.4 299.38 229.2 299.50 227.0 299.62 232.5 299.75 228.4 299.88 227.6 300 233.5 300.12 226.1 300.25 226.7 300.38 223.3 300.50 224.5 300.62 229.4 300.75 227.3 300.88 230.4 301 224.1 301.12 225.7 301.25 224.0 301.38 228.7 301.50 229.2 301.62 221.7 301.75 223.7 301.88 223.7 302 227.6 302.12 227.1 302.25 225.6 302.38 229.0 302.50 224.3 302.62 229.3 302.75 224.2 302.88 228.0 303 226.6 303.12 228.9 303.25 226.4 303.38 222.4 303.50 229.0 303.62 230.6 303.75 228.0 303.88 230.5 304 224.3 304.12 228.9 304.25 224.8 304.38 227.5 304.50 225.2 304.62 218.5 304.75 223.6 304.88 226.9 305 226.9 305.12 224.2 305.25 224.5 305.38 228.1 305.50 223.8 305.62 225.0 305.75 224.6 305.88 222.2 306 219.5 306.12 224.2 306.25 220.7 306.38 222.3 306.50 224.0 306.62 220.1 306.75 227.2 306.88 220.7 307 222.7 307.12 220.5 307.25 219.2 307.38 221.9 307.50 225.7 307.62 219.8 307.75 224.3 307.88 218.9 308 221.7 308.12 219.3 308.25 218.8 308.38 223.3 308.50 219.1 308.62 219.9 308.75 219.0 308.88 219.9 309 223.4 309.12 217.5 309.25 219.4 309.38 224.5 309.50 215.2 309.62 222.1 309.75 215.2 309.88 216.3 310 218.9 310.12 220.7 310.25 214.1 310.38 219.8 310.50 221.6 310.62 221.7 310.75 217.5 310.88 223.1 311 217.7 311.12 222.1 311.25 217.3 311.38 217.9 311.50 222.4 311.62 217.5 311.75 218.4 311.88 220.5 312 221.3 312.12 218.8 312.25 224.1 312.38 222.2 312.50 222.7 312.62 221.6 312.75 220.1 312.88 218.6 313 219.0 313.12 216.7 313.25 219.4 313.38 216.0 313.50 214.4 313.62 220.0 313.75 222.5 313.88 217.2 314 217.5 314.12 218.9 314.25 220.7 314.38 220.3 314.50 219.0 314.62 215.5 314.75 220.1 314.88 219.4 315 220.7 315.12 221.2 315.25 221.2 315.38 219.1 315.50 221.8 315.62 217.6 315.75 222.0 315.88 218.0 316 218.1 316.12 220.2 316.25 221.0 316.38 216.7 316.50 218.5 316.62 216.7 316.75 222.2 316.88 217.6 317 216.7 317.12 223.3 317.25 217.8 317.38 217.6 317.50 220.5 317.62 221.5 317.75 213.2 317.88 220.2 318 215.9 318.12 213.7 318.25 221.7 318.38 220.8 318.50 217.7 318.62 220.9 318.75 215.5 318.88 219.5 319 217.3 319.12 213.4 319.25 216.3 319.38 215.9 319.50 217.6 319.62 218.3 319.75 215.9 319.88 217.7 320 218.5 320.12 218.7 320.25 213.9 320.38 213.1 320.50 219.1 320.62 215.4 320.75 216.0 320.88 217.3 321 215.5 321.12 214.4 321.25 215.9 321.38 214.5 321.50 214.7 321.62 214.1 321.75 212.4 321.88 209.8 322 211.3 322.12 211.5 322.25 214.9 322.38 218.1 322.50 216.3 322.62 215.1 322.75 216.0 322.88 211.4 323 214.4 323.12 212.1 323.25 218.1 323.38 219.1 323.50 212.0 323.62 215.8 323.75 210.8 323.88 214.7 324 216.9 324.12 217.8 324.25 219.3 324.38 218.0 324.50 213.8 324.62 218.0 324.75 215.9 324.88 210.0 325 213.4 325.12 211.4 325.25 214.7 325.38 216.0 325.50 217.1 325.62 211.9 325.75 214.5 325.88 211.6 326 215.2 326.12 218.5 326.25 214.6 326.38 219.9 326.50 212.3 326.62 212.2 326.75 217.6 326.88 215.6 327 210.2 327.12 213.1 327.25 213.7 327.38 209.3 327.50 213.6 327.62 215.7 327.75 217.5 327.88 211.3 328 212.0 328.12 212.3 328.25 215.1 328.38 210.2 328.50 217.0 328.62 212.0 328.75 215.0 328.88 217.3 329 215.0 329.12 214.2 329.25 216.0 329.38 214.4 329.50 211.2 329.62 212.6 329.75 215.8 329.88 214.4 330 214.4 330.12 216.0 330.25 214.3 330.38 213.1 330.50 215.0 330.62 208.9 330.75 213.8 330.88 213.7 331 213.9 331.12 212.2 331.25 214.0 331.38 213.5 331.50 212.3 331.62 211.1 331.75 214.4 331.88 210.9 332 214.6 332.12 207.9 332.25 214.5 332.38 214.1 332.50 216.0 332.62 208.0 332.75 214.1 332.88 211.8 333 214.1 333.12 212.1 333.25 207.1 333.38 215.2 333.50 212.3 333.62 211.4 333.75 208.9 333.88 211.5 334 212.4 334.12 212.7 334.25 209.8 334.38 210.0 334.50 212.9 334.62 211.8 334.75 216.7 334.88 211.6 335 210.5 335.12 217.1 335.25 212.2 335.38 210.3 335.50 211.4 335.62 215.9 335.75 211.4 335.88 217.3 336 210.8 336.12 208.2 336.25 212.5 336.38 211.0 336.50 212.0 336.62 212.1 336.75 209.7 336.88 212.2 337 209.8 337.12 212.1 337.25 211.3 337.38 215.2 337.50 220.6 337.62 216.4 337.75 215.5 337.88 212.1 338 205.5 338.12 211.1 338.25 214.8 338.38 211.5 338.50 215.1 338.62 212.5 338.75 216.6 338.88 212.9 339 213.9 339.12 210.0 339.25 213.0 339.38 214.9 339.50 216.0 339.62 217.1 339.75 214.7 339.88 208.7 340 214.5 340.12 214.0 340.25 214.5 340.38 211.9 340.50 212.6 340.62 211.8 340.75 211.3 340.88 211.4 341 211.6 341.12 213.6 341.25 216.1 341.38 216.3 341.50 213.3 341.62 215.6 341.75 212.5 341.88 207.9 342 216.1 342.12 213.4 342.25 215.4 342.38 216.5 342.50 213.0 342.62 214.3 342.75 208.9 342.88 215.7 343 212.0 343.12 214.7 343.25 213.5 343.38 211.8 343.50 210.9 343.62 216.3 343.75 212.7 343.88 216.5 344 211.6 344.12 213.8 344.25 213.3 344.38 208.2 344.50 214.5 344.62 212.9 344.75 212.5 344.88 210.0 345 215.1 345.12 218.5 345.25 216.3 345.38 216.9 345.50 218.1 345.62 214.1 345.75 215.8 345.88 211.6 346 216.6 346.12 210.8 346.25 213.7 346.38 212.4 346.50 214.7 346.62 215.2 346.75 210.7 346.88 215.0 347 210.1 347.12 214.9 347.25 214.4 347.38 211.2 347.50 213.9 347.62 213.4 347.75 211.7 347.88 218.2 348 212.9 348.12 216.4 348.25 214.3 348.38 212.2 348.50 210.0 348.62 215.8 348.75 208.7 348.88 211.8 349 211.9 349.12 209.3 349.25 209.3 349.38 211.7 349.50 206.2 349.62 215.1 349.75 214.8 349.88 209.3 350 214.3 350.12 212.0 350.25 211.6 350.38 210.7 350.50 209.7 350.62 210.5 350.75 216.3 350.88 212.8 351 209.8 351.12 212.4 351.25 209.1 351.38 208.6 351.50 212.1 351.62 206.2 351.75 214.3 351.88 214.8 352 208.8 352.12 211.6 352.25 212.7 352.38 207.5 352.50 211.4 352.62 209.2 352.75 212.4 352.88 211.0 353 211.3 353.12 208.5 353.25 211.5 353.38 210.0 353.50 215.0 353.62 214.5 353.75 214.6 353.88 213.6 354 216.3 354.12 214.4 354.25 212.5 354.38 209.7 354.50 215.7 354.62 213.4 354.75 212.0 354.88 212.9 355 213.4 355.12 215.6 355.25 211.7 355.38 213.7 355.50 212.0 355.62 208.2 355.75 212.9 355.88 217.4 356 207.9 356.12 216.2 356.25 209.2 356.38 215.4 356.50 210.2 356.62 209.1 356.75 210.4 356.88 212.3 357 214.9 357.12 210.8 357.25 211.4 357.38 218.3 357.50 213.8 357.62 215.1 357.75 211.9 357.88 213.5 358 211.2 358.12 212.7 358.25 212.6 358.38 218.3 358.50 214.3 358.62 213.7 358.75 214.1 358.88 209.2 359 220.3 359.12 213.8 359.25 214.9 359.38 212.2 359.50 211.8 359.62 213.9 359.75 212.6 359.88 210.1 360 213.9 360.12 218.1 360.25 213.1 360.38 218.4 360.50 215.3 360.62 215.4 360.75 210.8 360.88 213.7 361 215.6 361.12 213.6 361.25 217.2 361.38 209.1 361.50 214.2 361.62 211.6 361.75 218.7 361.88 216.2 362 210.8 362.12 212.8 362.25 211.7 362.38 211.1 362.50 219.3 362.62 216.8 362.75 216.3 362.88 213.9 363 213.3 363.12 214.5 363.25 216.7 363.38 212.9 363.50 214.3 363.62 214.9 363.75 214.2 363.88 217.9 364 211.8 364.12 219.6 364.25 213.0 364.38 215.9 364.50 214.6 364.62 214.3 364.75 220.5 364.88 214.4 365 217.8 365.12 214.1 365.25 220.5 365.38 215.6 365.50 216.5 365.62 213.4 365.75 217.3 365.88 214.7 366 214.4 366.12 217.5 366.25 213.9 366.38 214.8 366.50 213.8 366.62 210.8 366.75 218.8 366.88 216.4 367 215.5 367.12 216.4 367.25 219.5 367.38 213.5 367.50 214.9 367.62 220.6 367.75 217.9 367.88 219.8 368 220.5 368.12 215.3 368.25 218.5 368.38 218.9 368.50 215.8 368.62 220.4 368.75 219.5 368.88 217.2 369 220.2 369.12 221.1 369.25 220.4 369.38 218.3 369.50 214.4 369.62 215.0 369.75 215.3 369.88 215.0 370 213.9 370.12 217.2 370.25 218.7 370.38 221.0 370.50 213.6 370.62 217.9 370.75 214.9 370.88 217.9 371 213.5 371.12 214.7 371.25 216.2 371.38 215.0 371.50 216.8 371.62 212.9 371.75 219.3 371.88 221.4 372 220.2 372.12 218.1 372.25 220.1 372.38 217.3 372.50 219.4 372.62 217.3 372.75 217.8 372.88 216.8 373 220.6 373.12 215.4 373.25 223.3 373.38 221.7 373.50 221.9 373.62 219.2 373.75 217.1 373.88 222.7 374 220.3 374.12 218.5 374.25 220.4 374.38 218.5 374.50 216.2 374.62 219.0 374.75 219.1 374.88 218.6 375 221.2 375.12 222.4 375.25 221.8 375.38 222.6 375.50 216.3 375.62 218.7 375.75 224.6 375.88 215.8 376 220.3 376.12 220.4 376.25 221.5 376.38 221.3 376.50 217.9 376.62 217.6 376.75 213.6 376.88 221.1 377 222.6 377.12 218.5 377.25 221.2 377.38 220.1 377.50 219.6 377.62 220.5 377.75 219.1 377.88 215.8 378 214.2 378.12 221.5 378.25 219.9 378.38 215.4 378.50 220.9 378.62 219.6 378.75 214.2 378.88 219.0 379 218.3 379.12 217.3 379.25 217.3 379.38 220.5 379.50 218.7 379.62 219.3 379.75 213.1 379.88 223.5 380 218.3 380.12 215.8 380.25 217.2 380.38 215.8 380.50 218.1 380.62 217.5 380.75 220.7 380.88 216.2 381 216.0 381.12 216.6 381.25 213.7 381.38 216.7 381.50 218.4 381.62 215.7 381.75 220.0 381.88 212.4 382 217.8 382.12 212.4 382.25 222.7 382.38 211.9 382.50 217.9 382.62 216.4 382.75 212.6 382.88 220.7 383 221.4 383.12 213.1 383.25 215.8 383.38 216.9 383.50 217.3 383.62 218.3 383.75 218.8 383.88 218.0 384 221.4 384.12 216.5 384.25 218.5 384.38 215.5 384.50 218.7 384.62 215.5 384.75 214.8 384.88 220.6 385 214.8 385.12 219.9 385.25 221.4 385.38 219.9 385.50 219.7 385.62 223.8 385.75 222.1 385.88 220.3 386 217.1 386.12 217.1 386.25 216.2 386.38 217.7 386.50 219.2 386.62 219.9 386.75 219.3 386.88 219.1 387 219.3 387.12 216.8 387.25 218.3 387.38 217.0 387.50 217.8 387.62 217.8 387.75 222.6 387.88 218.1 388 217.1 388.12 224.2 388.25 221.8 388.38 223.7 388.50 221.8 388.62 221.1 388.75 221.8 388.88 219.7 389 229.4 389.12 219.5 389.25 228.2 389.38 226.7 389.50 227.8 389.62 220.5 389.75 229.7 389.88 224.4 390 222.9 390.12 221.3 390.25 222.2 390.38 226.7 390.50 227.1 390.62 224.9 390.75 224.4 390.88 223.7 391 224.7 391.12 224.4 391.25 225.4 391.38 220.8 391.50 226.8 391.62 223.4 391.75 225.8 391.88 219.1 392 227.1 392.12 219.6 392.25 222.6 392.38 223.4 392.50 223.5 392.62 226.1 392.75 218.6 392.88 222.6 393 223.3 393.12 225.6 393.25 222.8 393.38 224.8 393.50 227.4 393.62 218.7 393.75 222.8 393.88 223.8 394 227.1 394.12 222.1 394.25 218.7 394.38 217.8 394.50 220.8 394.62 223.1 394.75 223.3 394.88 222.6 395 223.9 395.12 222.7 395.25 225.1 395.38 222.7 395.50 222.5 395.62 227.1 395.75 228.2 395.88 223.6 396 226.1 396.12 219.7 396.25 225.2 396.38 220.8 396.50 226.1 396.62 221.9 396.75 226.3 396.88 224.1 397 223.7 397.12 221.7 397.25 223.3 397.38 221.3 397.50 223.1 397.62 224.3 397.75 224.6 397.88 221.1 398 221.8 398.12 219.1 398.25 220.3 398.38 225.1 398.50 229.6 398.62 225.5 398.75 227.5 398.88 221.1 399 225.7 399.12 226.6 399.25 230.0 399.38 227.0 399.50 225.5 399.62 228.2 399.75 223.2 399.88 228.0 400 225.9 400.12 229.7 400.25 224.9 400.38 222.6 400.50 225.2 400.62 228.8 400.75 224.5 400.88 230.4 401 221.9 401.12 227.9 401.25 223.2 401.38 226.8 401.50 222.2 401.62 226.6 401.75 224.7 401.88 223.5 402 224.7 402.12 231.1 402.25 227.5 402.38 230.7 402.50 229.4 402.62 227.3 402.75 229.9 402.88 226.8 403 225.2 403.12 223.1 403.25 225.2 403.38 223.7 403.50 228.2 403.62 228.0 403.75 222.5 403.88 229.1 404 229.4 404.12 224.5 404.25 229.0 404.38 228.8 404.50 220.0 404.62 227.3 404.75 230.5 404.88 220.3 405 229.6 405.12 220.1 405.25 230.8 405.38 224.8 405.50 229.2 405.62 223.0 405.75 227.0 405.88 225.6 406 228.4 406.12 220.3 406.25 224.7 406.38 223.7 406.50 220.7 406.62 221.9 406.75 222.5 406.88 226.3 407 226.9 407.12 223.4 407.25 222.5 407.38 221.3 407.50 221.4 407.62 224.7 407.75 226.1 407.88 224.4 408 229.5 408.12 227.1 408.25 228.3 408.38 224.0 408.50 227.4 408.62 221.5 408.75 226.2 408.88 220.5 409 228.5 409.12 221.5 409.25 229.0 409.38 225.5 409.50 226.4 409.62 223.4 409.75 226.5 409.88 224.8 410 226.3 410.12 227.8 410.25 218.8 410.38 225.1 410.50 224.8 410.62 224.6 410.75 223.4 410.88 223.1 411 221.8 411.12 225.3 411.25 221.2 411.38 222.4 411.50 219.4 411.62 220.8 411.75 222.6 411.88 220.1 412 219.8 412.12 224.1 412.25 224.0 412.38 218.8 412.50 218.9 412.62 222.6 412.75 224.7 412.88 225.3 413 224.7 413.12 223.4 413.25 224.1 413.38 223.1 413.50 222.0 413.62 221.7 413.75 225.4 413.88 228.2 414 220.9 414.12 223.5 414.25 224.8 414.38 225.5 414.50 223.2 414.62 222.7 414.75 222.9 414.88 227.9 415 221.3 415.12 222.7 415.25 223.5 415.38 226.0 415.50 222.0 415.62 222.9 415.75 223.9 415.88 222.0 416 220.5 416.12 225.4 416.25 220.8 416.38 228.0 416.50 222.3 416.62 222.8 416.75 223.9 416.88 219.3 417 224.1 417.12 226.8 417.25 219.6 417.38 225.1 417.50 221.7 417.62 225.8 417.75 225.7 417.88 223.7 418 223.3 418.12 228.3 418.25 221.0 418.38 223.6 418.50 225.4 418.62 225.8 418.75 218.7 418.88 221.8 419 223.6 419.12 221.7 419.25 225.9 419.38 226.6 419.50 228.4 419.62 221.4 419.75 225.3 419.88 225.7 420 218.5 420.12 226.6 420.25 220.4 420.38 226.7 420.50 224.7 420.62 226.3 420.75 219.9 420.88 226.7 421 219.8 421.12 222.2 421.25 226.5 421.38 225.8 421.50 224.5 421.62 225.7 421.75 224.8 421.88 222.3 422 223.6 422.12 226.8 422.25 227.6 422.38 223.7 422.50 224.9 422.62 221.8 422.75 224.6 422.88 220.3 423 226.7 423.12 223.3 423.25 220.3 423.38 221.1 423.50 229.9 423.62 222.8 423.75 221.6 423.88 229.7 424 225.7 424.12 224.3 424.25 222.1 424.38 224.3 424.50 224.1 424.62 227.1 424.75 225.3 424.88 231.1 425 225.6 425.12 228.0 425.25 224.9 425.38 222.6 425.50 223.2 425.62 229.0 425.75 226.7 425.88 229.7 426 223.6 426.12 226.1 426.25 223.8 426.38 226.9 426.50 221.7 426.62 226.9 426.75 225.2 426.88 220.9 427 223.2 427.12 222.8 427.25 221.6 427.38 225.0 427.50 226.7 427.62 222.4 427.75 218.9 427.88 224.5 428 225.2 428.12 219.4 428.25 224.4 428.38 222.9 428.50 225.6 428.62 222.9 428.75 221.9 428.88 221.0 429 220.3 429.12 221.1 429.25 213.5 429.38 218.4 429.50 218.0 429.62 219.3 429.75 217.7 429.88 220.1 430 219.0 430.12 218.1 430.25 217.9 430.38 216.3 430.50 220.5 430.62 220.9 430.75 216.2 430.88 216.1 431 219.1 431.12 219.3 431.25 220.8 431.38 216.4 431.50 217.7 431.62 220.2 431.75 213.7 431.88 219.4 432 219.7 432.12 216.3 432.25 221.0 432.38 216.3 432.50 222.7 432.62 222.1 432.75 221.4 432.88 220.9 433 218.7 433.12 215.7 433.25 217.4 433.38 216.6 433.50 217.3 433.62 220.7 433.75 222.2 433.88 220.9 434 222.3 434.12 219.9 434.25 220.2 434.38 217.6 434.50 215.8 434.62 221.9 434.75 220.7 434.88 217.7 435 217.0 435.12 215.5 435.25 214.7 435.38 220.1 435.50 217.5 435.62 221.8 435.75 221.8 435.88 222.1 436 223.2 436.12 217.1 436.25 216.3 436.38 216.3 436.50 215.7 436.62 223.2 436.75 216.5 436.88 220.3 437 216.7 437.12 217.1 437.25 217.0 437.38 221.7 437.50 217.4 437.62 219.7 437.75 216.5 437.88 219.2 438 223.8 438.12 224.4 438.25 215.0 438.38 222.0 438.50 221.7 438.62 215.3 438.75 218.0 438.88 224.2 439 217.0 439.12 225.9 439.25 220.0 439.38 223.6 439.50 219.9 439.62 216.4 439.75 221.6 439.88 219.8 440 219.2 440.12 223.4 440.25 223.9 440.38 223.3 440.50 219.2 440.62 220.5 440.75 216.4 440.88 224.8 441 221.6 441.12 223.4 441.25 222.4 441.38 223.8 441.50 219.2 441.62 217.5 441.75 224.9 441.88 218.1 442 217.7 442.12 221.2 442.25 220.8 442.38 219.2 442.50 223.4 442.62 221.0 442.75 219.7 442.88 219.3 443 220.9 443.12 219.1 443.25 223.4 443.38 224.5 443.50 220.1 443.62 222.1 443.75 225.2 443.88 222.6 444 226.2 444.12 221.4 444.25 222.2 444.38 222.6 444.50 226.3 444.62 223.8 444.75 226.9 444.88 225.5 445 222.1 445.12 223.8 445.25 221.5 445.38 223.4 445.50 224.3 445.62 222.1 445.75 226.3 445.88 220.9 446 227.1 446.12 219.3 446.25 228.6 446.38 222.8 446.50 228.5 446.62 223.1 446.75 225.5 446.88 221.1 447 221.9 447.12 223.6 447.25 229.5 447.38 231.4 447.50 225.1 447.62 227.6 447.75 221.9 447.88 223.4 448 227.1 448.12 227.7 448.25 228.5 448.38 231.4 448.50 226.7 448.62 229.5 448.75 231.9 448.88 229.9 449 227.9 449.12 228.9 449.25 232.1 449.38 231.0 449.50 230.3 449.62 235.4 449.75 229.5 449.88 233.0 450 231.9 450.12 234.1 450.25 231.5 450.38 231.1 450.50 233.5 450.62 230.4 450.75 236.6 450.88 234.1 451 231.0 451.12 232.9 451.25 234.1 451.38 234.0 451.50 233.2 451.62 235.9 451.75 240.0 451.88 239.1 452 235.3 452.12 237.1 452.25 239.9 452.38 239.4 452.50 236.0 452.62 237.6 452.75 234.9 452.88 234.1 453 240.9 453.12 234.1 453.25 242.0 453.38 239.5 453.50 231.5 453.62 236.9 453.75 239.9 453.88 236.5 454 239.7 454.12 240.4 454.25 238.8 454.38 237.3 454.50 239.4 454.62 240.8 454.75 237.3 454.88 236.9 455 235.5 455.12 234.9 455.25 233.7 455.38 240.9 455.50 236.0 455.62 240.3 455.75 237.8 455.88 241.8 456 236.4 456.12 240.7 456.25 237.1 456.38 236.0 456.50 236.0 456.62 237.8 456.75 236.8 456.88 236.8 457 244.9 457.12 235.8 457.25 235.6 457.38 240.2 457.50 238.8 457.62 240.2 457.75 237.4 457.88 237.5 458 239.1 458.12 237.7 458.25 241.4 458.38 237.3 458.50 236.0 458.62 237.3 458.75 236.3 458.88 236.4 459 238.1 459.12 235.6 459.25 240.3 459.38 234.1 459.50 241.4 459.62 235.5 459.75 236.1 459.88 241.4 460 240.4 460.12 238.4 460.25 240.1 460.38 236.1 460.50 238.5 460.62 240.2 460.75 233.9 460.88 233.4 461 243.6 461.12 237.3 461.25 239.4 461.38 235.9 461.50 239.1 461.62 235.3 461.75 234.7 461.88 239.2 462 234.5 462.12 233.4 462.25 240.3 462.38 239.6 462.50 232.7 462.62 237.5 462.75 239.4 462.88 236.1 463 237.9 463.12 235.6 463.25 236.4 463.38 234.9 463.50 236.7 463.62 232.8 463.75 232.2 463.88 237.8 464 232.8 464.12 234.2 464.25 238.6 464.38 236.4 464.50 237.3 464.62 233.7 464.75 231.6 464.88 232.5 465 237.6 465.12 231.7 465.25 236.4 465.38 233.4 465.50 235.3 465.62 231.1 465.75 234.9 465.88 237.5 466 234.8 466.12 231.7 466.25 236.6 466.38 236.5 466.50 229.2 466.62 237.0 466.75 229.1 466.88 229.9 467 228.8 467.12 234.4 467.25 228.7 467.38 229.5 467.50 230.0 467.62 236.7 467.75 226.2 467.88 231.6 468 227.0 468.12 234.2 468.25 228.8 468.38 230.1 468.50 227.2 468.62 229.6 468.75 230.6 468.88 233.8 469 228.7 469.12 236.1 469.25 226.8 469.38 228.5 469.50 231.2 469.62 228.2 469.75 231.2 469.88 230.7 470 232.2 470.12 231.8 470.25 227.2 470.38 232.8 470.50 224.2 470.62 230.9 470.75 230.3 470.88 231.4 471 229.3 471.12 225.3 471.25 230.9 471.38 225.8 471.50 229.2 471.62 228.8 471.75 230.7 471.88 227.5 472 228.4 472.12 225.7 472.25 226.0 472.38 226.4 472.50 229.1 472.62 222.8 472.75 226.8 472.88 225.1 473 229.1 473.12 223.1 473.25 222.7 473.38 226.1 473.50 230.4 473.62 228.5 473.75 225.3 473.88 221.8 474 225.9 474.12 222.8 474.25 221.1 474.38 222.1 474.50 225.7 474.62 221.6 474.75 221.9 474.88 222.3 475 225.9 475.12 221.7 475.25 222.6 475.38 220.4 475.50 224.0 475.62 222.7 475.75 218.4 475.88 221.3 476 220.6 476.12 219.6 476.25 220.6 476.38 217.4 476.50 224.5 476.62 222.3 476.75 220.8 476.88 219.6 477 219.8 477.12 219.7 477.25 218.9 477.38 220.3 477.50 215.6 477.62 217.3 477.75 217.5 477.88 219.7 478 218.7 478.12 222.2 478.25 221.2 478.38 222.2 478.50 218.0 478.62 218.8 478.75 219.2 478.88 215.3 479 220.7 479.12 221.1 479.25 218.9 479.38 222.2 479.50 220.5 479.62 224.9 479.75 222.0 479.88 219.8 480 222.4 480.12 221.8 480.25 221.3 480.38 223.2 480.50 222.7 480.62 226.9 480.75 226.5 480.88 227.8 481 225.7 481.12 226.7 481.25 220.5 481.38 223.3 481.50 223.2 481.62 226.8 481.75 218.1 481.88 225.8 482 222.5 482.12 222.4 482.25 225.1 482.38 221.1 482.50 227.9 482.62 223.4 482.75 223.0 482.88 228.6 483 225.4 483.12 223.0 483.25 227.4 483.38 226.1 483.50 229.3 483.62 230.3 483.75 224.1 483.88 228.2 484 229.3 484.12 225.0 484.25 226.6 484.38 224.1 484.50 224.5 484.62 229.9 484.75 228.6 484.88 227.2 485 229.6 485.12 223.5 485.25 229.2 485.38 226.3 485.50 230.7 485.62 232.4 485.75 231.6 485.88 232.5 486 230.0 486.12 227.9 486.25 231.4 486.38 233.4 486.50 227.7 486.62 231.6 486.75 227.2 486.88 231.5 487 229.7 487.12 232.4 487.25 231.1 487.38 233.8 487.50 234.6 487.62 227.2 487.75 227.8 487.88 228.3 488 235.7 488.12 231.7 488.25 238.4 488.38 230.5 488.50 236.1 488.62 233.2 488.75 234.5 488.88 236.3 489 236.9 489.12 232.7 489.25 237.6 489.38 236.8 489.50 234.6 489.62 235.6 489.75 233.2 489.88 235.0 490 235.9 490.12 233.6 490.25 230.3 490.38 238.1 490.50 236.2 490.62 235.7 490.75 232.6 490.88 235.6 491 242.1 491.12 235.2 491.25 235.4 491.38 237.5 491.50 234.0 491.62 235.7 491.75 239.4 491.88 237.9 492 238.0 492.12 237.2 492.25 237.6 492.38 233.0 492.50 237.6 492.62 238.2 492.75 235.1 492.88 237.2 493 235.6 493.12 237.0 493.25 236.8 493.38 232.1 493.50 235.7 493.62 230.1 493.75 232.3 493.88 234.9 494 235.7 494.12 230.7 494.25 235.0 494.38 234.7 494.50 233.0 494.62 234.9 494.75 231.5 494.88 234.0 495 230.8 495.12 237.6 495.25 237.5 495.38 238.0 495.50 234.7 495.62 238.5 495.75 239.7 495.88 238.6 496 241.8 496.12 236.9 496.25 239.1 496.38 235.4 496.50 232.8 496.62 239.8 496.75 236.0 496.88 241.3 497 240.0 497.12 239.0 497.25 236.1 497.38 240.3 497.50 241.8 497.62 237.7 497.75 237.9 497.88 238.1 498 241.0 498.12 240.5 498.25 239.5 498.38 241.7 498.50 243.7 498.62 234.4 498.75 244.2 498.88 236.5 499 242.0 499.12 239.0 499.25 239.0 499.38 239.0 499.50 238.8 499.62 240.7 499.75 244.2 499.88 239.7 500 247.2 500.12 240.8 500.25 248.1 500.38 242.0 500.50 245.0 500.62 243.9 500.75 243.5 500.88 238.7 501 242.3 501.12 240.2 501.25 247.3 501.38 242.5 501.50 244.9 501.62 242.9 501.75 249.2 501.88 245.1 502 245.1 502.12 244.1 502.25 242.1 502.38 242.8 502.50 246.0 502.62 239.6 502.75 241.6 502.88 236.8 503 246.0 503.12 240.7 503.25 247.2 503.38 247.2 503.50 241.2 503.62 241.0 503.75 239.5 503.88 245.4 504 237.1 504.12 247.4 504.25 240.5 504.38 238.2 504.50 244.3 504.62 244.6 504.75 241.4 504.88 244.0 505 237.9 505.12 243.7 505.25 242.3 505.38 246.1 505.50 240.9 505.62 240.2 505.75 245.4 505.88 240.3 506 239.2 506.12 241.9 506.25 240.3 506.38 244.0 506.50 245.1 506.62 242.1 506.75 241.3 506.88 237.9 507 237.0 507.12 238.4 507.25 237.8 507.38 240.5 507.50 237.9 507.62 238.0 507.75 241.5 507.88 240.7 508 240.5 508.12 238.9 508.25 242.3 508.38 238.3 508.50 238.3 508.62 235.1 508.75 235.9 508.88 232.3 509 241.1 509.12 232.2 509.25 239.2 509.38 237.8 509.50 232.4 509.62 239.4 509.75 237.7 509.88 237.3 510 237.4 510.12 240.4 510.25 235.0 510.38 235.4 510.50 234.5 510.62 236.1 510.75 239.2 510.88 237.6 511 242.6 511.12 234.1 511.25 236.7 511.38 237.5 511.50 236.3 511.62 232.3 511.75 233.1 511.88 234.1 512 237.2 512.12 239.5 512.25 238.2 512.38 235.2 512.50 233.7 512.62 237.8 512.75 236.1 512.88 236.1 513 238.5 513.12 235.8 513.25 233.4 513.38 233.2 513.50 239.5 513.62 234.1 513.75 231.1 513.88 236.7 514 230.6 514.12 233.0 514.25 234.0 514.38 232.9 514.50 232.7 514.62 230.3 514.75 234.9 514.88 231.1 515 230.9 515.12 231.4 515.25 235.5 515.38 238.1 515.50 235.8 515.62 234.7 515.75 234.3 515.88 230.8 516 235.9 516.12 232.6 516.25 232.0 516.38 234.8 516.50 229.4 516.62 229.9 516.75 230.4 516.88 234.5 517 232.7 517.12 229.8 517.25 237.2 517.38 234.0 517.50 232.9 517.62 233.7 517.75 231.2 517.88 233.3 518 230.3 518.12 229.7 518.25 231.5 518.38 225.1 518.50 231.9 518.62 233.7 518.75 233.8 518.88 232.9 519 228.8 519.12 234.2 519.25 224.9 519.38 234.4 519.50 230.7 519.62 232.3 519.75 235.3 519.88 230.5 520 227.0 520.12 229.3 520.25 227.3 520.38 227.9 520.50 228.7 520.62 223.8 520.75 226.8 520.88 223.6 521 228.0 521.12 232.2 521.25 232.6 521.38 230.3 521.50 229.9 521.62 230.4 521.75 226.4 521.88 230.4 522 227.8 522.12 225.3 522.25 225.8 522.38 226.1 522.50 224.0 522.62 226.4 522.75 224.7 522.88 230.2 523 230.4 523.12 230.0 523.25 229.3 523.38 229.0 523.50 225.6 523.62 226.9 523.75 225.4 523.88 225.3 524 224.4 524.12 228.2 524.25 226.8 524.38 221.3 524.50 219.8 524.62 223.1 524.75 227.5 524.88 225.2 525 224.6 525.12 228.0 525.25 226.4 525.38 223.9 525.50 223.5 525.62 226.4 525.75 221.9 525.88 228.5 526 223.0 526.12 223.0 526.25 226.4 526.38 229.2 526.50 222.4 526.62 224.6 526.75 230.6 526.88 230.5 527 226.1 527.12 226.7 527.25 227.9 527.38 222.6 527.50 223.8 527.62 226.5 527.75 226.3 527.88 229.5 528 228.5 528.12 228.4 528.25 226.9 528.38 228.3 528.50 230.0 528.62 227.1 528.75 229.7 528.88 228.4 529 229.3 529.12 228.6 529.25 227.4 529.38 228.0 529.50 230.3 529.62 224.3 529.75 224.8 529.88 227.6 530 226.4 530.12 226.0 530.25 228.7 530.38 232.4 530.50 230.9 530.62 232.6 530.75 228.8 530.88 225.6 531 224.2 531.12 230.1 531.25 227.5 531.38 230.6 531.50 230.4 531.62 232.1 531.75 229.7 531.88 224.8 532 231.4 532.12 230.6 532.25 229.4 532.38 233.6 532.50 228.3 532.62 229.4 532.75 227.7 532.88 229.1 533 231.9 533.12 232.6 533.25 235.5 533.38 229.1 533.50 227.4 533.62 229.7 533.75 231.9 533.88 228.9 534 234.9 534.12 230.0 534.25 235.6 534.38 228.5 534.50 229.8 534.62 226.0 534.75 235.0 534.88 234.2 535 232.6 535.12 231.5 535.25 236.8 535.38 231.1 535.50 230.5 535.62 238.3 535.75 232.9 535.88 230.1 536 230.2 536.12 231.6 536.25 231.4 536.38 233.3 536.50 228.6 536.62 233.6 536.75 233.2 536.88 230.7 537 229.4 537.12 236.4 537.25 235.3 537.38 227.4 537.50 227.5 537.62 231.1 537.75 229.9 537.88 229.3 538 228.9 538.12 227.8 538.25 230.2 538.38 231.6 538.50 230.9 538.62 229.1 538.75 229.3 538.88 229.3 539 233.3 539.12 231.8 539.25 230.1 539.38 232.3 539.50 226.0 539.62 231.0 539.75 232.0 539.88 228.3 540 227.4 540.12 229.3 540.25 227.6 540.38 231.2 540.50 229.3 540.62 226.1 540.75 225.8 540.88 229.8 541 233.7 541.12 223.5 541.25 228.5 541.38 231.2 541.50 229.4 541.62 228.5 541.75 228.9 541.88 228.1 542 232.8 542.12 230.3 542.25 225.5 542.38 231.5 542.50 226.3 542.62 230.2 542.75 227.1 542.88 229.3 543 230.5 543.12 232.2 543.25 226.2 543.38 232.2 543.50 226.5 543.62 230.0 543.75 227.0 543.88 224.0 544 225.8 544.12 230.5 544.25 227.7 544.38 230.7 544.50 227.5 544.62 229.0 544.75 230.3 544.88 232.8 545 224.9 545.12 232.4 545.25 229.5 545.38 231.8 545.50 230.7 545.62 225.2 545.75 228.5 545.88 233.5 546 230.6 546.12 234.2 546.25 234.4 546.38 234.6 546.50 231.4 546.62 225.2 546.75 231.4 546.88 226.4 547 227.0 547.12 228.3 547.25 226.6 547.38 225.6 547.50 230.3 547.62 231.5 547.75 226.5 547.88 227.1 548 227.7 548.12 224.2 548.25 227.5 548.38 230.3 548.50 223.2 548.62 225.8 548.75 226.9 548.88 226.7 549 222.9 549.12 227.9 549.25 222.6 549.38 228.2 549.50 226.0 549.62 225.6 549.75 222.0 549.88 223.1 550 223.3 550.12 227.9 550.25 223.9 550.38 225.1 550.50 226.0 550.62 221.2 550.75 221.9 550.88 226.2 551 221.7 551.12 224.7 551.25 225.0 551.38 224.3 551.50 218.3 551.62 218.3 551.75 221.6 551.88 218.1 552 221.2 552.12 223.7 552.25 225.4 552.38 225.6 552.50 219.5 552.62 225.4 552.75 218.6 552.88 220.5 553 220.0 553.12 224.4 553.25 221.4 553.38 216.9 553.50 224.4 553.62 225.9 553.75 223.1 553.88 223.3 554 217.9 554.12 219.2 554.25 220.9 554.38 223.4 554.50 219.8 554.62 221.0 554.75 218.7 554.88 219.6 555 224.6 555.12 218.1 555.25 218.4 555.38 217.3 555.50 216.2 555.62 221.9 555.75 216.6 555.88 216.8 556 221.2 556.12 215.6 556.25 215.2 556.38 218.1 556.50 219.8 556.62 210.7 556.75 217.4 556.88 213.9 557 216.8 557.12 218.4 557.25 217.1 557.38 213.5 557.50 215.6 557.62 217.3 557.75 214.6 557.88 213.4 558 213.4 558.12 214.4 558.25 212.6 558.38 217.6 558.50 211.4 558.62 220.4 558.75 211.5 558.88 217.7 559 215.9 559.12 216.6 559.25 219.3 559.38 211.7 559.50 218.2 559.62 208.8 559.75 214.2 559.88 216.7 560 214.8 560.12 217.7 560.25 217.7 560.38 216.2 560.50 210.2 560.62 212.3 560.75 210.0 560.88 217.8 561 216.2 561.12 211.7 561.25 213.8 561.38 217.9 561.50 216.9 561.62 213.2 561.75 217.8 561.88 211.7 562 213.2 562.12 215.3 562.25 212.1 562.38 214.7 562.50 211.0 562.62 208.0 562.75 212.5 562.88 213.5 563 215.1 563.12 211.3 563.25 209.7 563.38 215.8 563.50 211.4 563.62 211.9 563.75 209.4 563.88 214.5 564 207.5 564.12 212.2 564.25 215.6 564.38 211.0 564.50 209.7 564.62 211.9 564.75 214.8 564.88 212.7 565 207.4 565.12 213.2 565.25 212.1 565.38 217.4 565.50 214.7 565.62 208.3 565.75 211.4 565.88 209.7 566 213.9 566.12 209.9 566.25 213.6 566.38 213.4 566.50 214.5 566.62 211.6 566.75 215.5 566.88 216.0 567 213.0 567.12 214.7 567.25 210.7 567.38 214.0 567.50 208.3 567.62 212.5 567.75 209.0 567.88 213.0 568 209.2 568.12 215.7 568.25 214.1 568.38 210.7 568.50 212.2 568.62 211.4 568.75 209.5 568.88 207.5 569 216.1 569.12 210.3 569.25 217.1 569.38 213.8 569.50 213.9 569.62 207.6 569.75 214.0 569.88 215.0 570 216.8 570.12 210.8 570.25 213.3 570.38 214.0 570.50 209.1 570.62 213.1 570.75 213.5 570.88 210.6 571 213.4 571.12 209.3 571.25 212.3 571.38 209.1 571.50 211.7 571.62 207.0 571.75 210.8 571.88 208.9 572 209.9 572.12 206.2 572.25 211.2 572.38 202.9 572.50 205.1 572.62 212.1 572.75 208.1 572.88 208.8 573 208.5 573.12 210.6 573.25 204.1 573.38 212.6 573.50 203.1 573.62 205.8 573.75 205.2 573.88 204.9 574 209.4 574.12 206.1 574.25 208.3 574.38 210.0 574.50 210.4 574.62 209.3 574.75 207.1 574.88 205.2 575 203.0 575.12 204.9 575.25 211.0 575.38 204.3 575.50 207.8 575.62 210.9 575.75 206.0 575.88 208.4 576 209.6 576.12 208.2 576.25 206.2 576.38 204.8 576.50 213.7 576.62 212.7 576.75 212.1 576.88 208.6 577 215.6 577.12 214.3 577.25 208.0 577.38 209.2 577.50 213.2 577.62 208.3 577.75 211.3 577.88 213.1 578 213.8 578.12 212.2 578.25 211.0 578.38 207.2 578.50 211.4 578.62 208.8 578.75 212.2 578.88 212.7 579 214.7 579.12 212.3 579.25 211.2 579.38 210.5 579.50 214.2 579.62 213.6 579.75 209.3 579.88 213.2 580 213.1 580.12 217.1 580.25 212.0 580.38 213.6 580.50 214.5 580.62 210.9 580.75 211.6 580.88 212.7 581 213.0 581.12 213.5 581.25 215.8 581.38 216.0 581.50 210.8 581.62 218.5 581.75 213.8 581.88 214.9 582 210.1 582.12 214.8 582.25 214.3 582.38 210.9 582.50 215.2 582.62 209.1 582.75 213.7 582.88 209.9 583 213.1 583.12 212.5 583.25 215.3 583.38 215.2 583.50 213.2 583.62 213.2 583.75 211.8 583.88 213.1 584 211.6 584.12 214.0 584.25 208.3 584.38 213.8 584.50 207.9 584.62 215.7 584.75 208.2 584.88 209.9 585 206.2 585.12 210.4 585.25 207.1 585.38 207.7 585.50 213.4 585.62 209.9 585.75 213.2 585.88 211.4 586 205.3 586.12 205.4 586.25 210.9 586.38 215.2 586.50 206.3 586.62 215.4 586.75 209.1 586.88 212.7 587 211.9 587.12 209.3 587.25 210.2 587.38 210.7 587.50 211.1 587.62 212.8 587.75 210.6 587.88 208.3 588 212.3 588.12 209.2 588.25 209.2 588.38 208.4 588.50 209.8 588.62 215.0 588.75 209.3 588.88 216.3 589 207.1 589.12 212.3 589.25 216.2 589.38 211.7 589.50 213.4 589.62 209.8 589.75 211.2 589.88 215.6 590 211.3 590.12 214.5 590.25 215.9 590.38 213.6 590.50 213.9 590.62 209.2 590.75 216.4 590.88 210.4 591 211.0 591.12 213.9 591.25 216.7 591.38 213.6 591.50 219.0 591.62 217.9 591.75 215.8 591.88 215.9 592 211.1 592.12 213.6 592.25 212.7 592.38 214.2 592.50 215.0 592.62 215.6 592.75 214.6 592.88 210.1 593 216.1 593.12 218.5 593.25 214.3 593.38 208.7 593.50 215.3 593.62 214.9 593.75 216.6 593.88 216.2 594 214.7 594.12 210.6 594.25 213.7 594.38 214.4 594.50 215.9 594.62 212.0 594.75 212.9 594.88 211.4 595 213.1 595.12 207.5 595.25 210.8 595.38 215.8 595.50 211.9 595.62 209.2 595.75 210.8 595.88 213.8 596 211.4 596.12 210.3 596.25 212.9 596.38 209.4 596.50 214.2 596.62 213.8 596.75 214.0 596.88 209.9 597 212.2 597.12 214.9 597.25 215.7 597.38 209.9 597.50 213.0 597.62 211.6 597.75 211.8 597.88 214.1 598 213.1 598.12 211.2 598.25 211.9 598.38 214.7 598.50 210.8 598.62 213.1 598.75 217.5 598.88 216.0 599 217.8 599.12 213.5 599.25 212.9 599.38 213.6 599.50 210.4 599.62 209.9 599.75 213.9 599.88 211.7 600 208.2 600.12 212.1 600.25 213.2 600.38 210.3 600.50 209.6 600.62 210.4 600.75 214.5 600.88 215.1 601 217.0 601.12 212.4 601.25 214.1 601.38 207.4 601.50 211.8 601.62 211.3 601.75 211.0 601.88 213.2 602 212.5 602.12 209.3 602.25 209.2 602.38 210.5 602.50 216.4 602.62 207.3 602.75 211.3 602.88 210.4 603 210.6 603.12 216.0 603.25 214.7 603.38 211.0 603.50 212.2 603.62 215.9 603.75 216.2 603.88 209.1 604 212.9 604.12 210.5 604.25 207.8 604.38 215.7 604.50 209.5 604.62 210.8 604.75 210.7 604.88 212.2 605 215.1 605.12 215.9 605.25 213.5 605.38 214.7 605.50 211.2 605.62 213.0 605.75 210.9 605.88 215.7 606 214.8 606.12 212.3 606.25 212.9 606.38 214.4 606.50 211.8 606.62 212.7 606.75 212.7 606.88 213.0 607 209.2 607.12 216.9 607.25 210.8 607.38 206.8 607.50 209.4 607.62 215.9 607.75 214.5 607.88 218.5 608 215.2 608.12 209.8 608.25 209.6 608.38 215.8 608.50 212.7 608.62 210.8 608.75 205.6 608.88 216.5 609 215.7 609.12 214.2 609.25 211.5 609.38 210.9 609.50 216.3 609.62 213.6 609.75 216.0 609.88 208.4 610 208.5 610.12 213.7 610.25 211.7 610.38 210.1 610.50 216.6 610.62 210.3 610.75 211.8 610.88 211.7 611 209.8 611.12 209.6 611.25 212.2 611.38 213.0 611.50 211.9 611.62 211.4 611.75 215.8 611.88 209.6 612 217.1 612.12 208.3 612.25 206.8 612.38 211.6 612.50 213.1 612.62 212.5 612.75 213.0 612.88 209.3 613 213.2 613.12 215.6 613.25 216.1 613.38 213.5 613.50 215.2 613.62 212.2 613.75 210.9 613.88 214.1 614 216.5 614.12 212.6 614.25 215.0 614.38 209.7 614.50 213.8 614.62 209.9 614.75 211.0 614.88 216.0 615 211.8 615.12 218.1 615.25 207.3 615.38 214.7 615.50 209.0 615.62 212.1 615.75 213.3 615.88 209.9 616 209.9 616.12 214.3 616.25 212.3 616.38 212.0 616.50 206.7 616.62 213.0 616.75 209.5 616.88 212.8 617 214.1 617.12 216.1 617.25 205.7 617.38 212.8 617.50 208.9 617.62 214.4 617.75 208.6 617.88 207.8 618 210.3 618.12 215.5 618.25 210.0 618.38 214.9 618.50 209.8 618.62 209.1 618.75 214.9 618.88 208.9 619 210.6 619.12 211.2 619.25 214.3 619.38 209.7 619.50 210.7 619.62 208.1 619.75 209.1 619.88 211.1 620 214.1 620.12 214.2 620.25 209.6 620.38 215.3 620.50 210.8 620.62 216.6 620.75 214.9 620.88 214.4 621 211.9 621.12 218.5 621.25 216.2 621.38 216.9 621.50 217.1 621.62 212.5 621.75 212.9 621.88 218.1 622 214.1 622.12 217.6 622.25 215.2 622.38 218.3 622.50 213.9 622.62 218.8 622.75 217.5 622.88 214.4 623 216.1 623.12 212.3 623.25 215.1 623.38 222.7 623.50 219.5 623.62 216.2 623.75 217.2 623.88 214.4 624 217.9 624.12 217.7 624.25 215.9 624.38 217.1 624.50 217.5 624.62 221.8 624.75 219.7 624.88 221.6 625 217.8 625.12 221.2 625.25 222.0 625.38 220.0 625.50 215.0 625.62 219.3 625.75 219.2 625.88 219.6 626 222.1 626.12 216.6 626.25 218.1 626.38 220.1 626.50 214.6 626.62 214.6 626.75 213.4 626.88 214.5 627 216.4 627.12 217.4 627.25 220.3 627.38 220.0 627.50 213.9 627.62 221.5 627.75 218.6 627.88 221.7 628 218.2 628.12 221.8 628.25 218.0 628.38 219.3 628.50 223.1 628.62 217.4 628.75 218.6 628.88 220.2 629 219.4 629.12 218.9 629.25 217.0 629.38 216.1 629.50 219.4 629.62 221.7 629.75 219.2 629.88 219.4 630 214.6 630.12 216.1 630.25 216.2 630.38 213.4 630.50 220.8 630.62 213.5 630.75 216.2 630.88 217.6 631 214.5 631.12 220.4 631.25 220.0 631.38 218.2 631.50 220.1 631.62 220.1 631.75 220.4 631.88 220.9 632 215.1 632.12 212.2 632.25 220.5 632.38 220.5 632.50 221.3 632.62 217.0 632.75 219.5 632.88 218.5 633 218.5 633.12 215.6 633.25 214.1 633.38 218.4 633.50 215.8 633.62 222.7 633.75 218.2 633.88 215.9 634 219.8 634.12 217.5 634.25 223.8 634.38 218.3 634.50 222.7 634.62 213.8 634.75 214.6 634.88 216.9 635 224.3 635.12 218.5 635.25 221.1 635.38 221.8 635.50 223.7 635.62 222.4 635.75 221.5 635.88 218.9 636 221.8 636.12 221.5 636.25 219.4 636.38 222.9 636.50 224.0 636.62 222.2 636.75 217.9 636.88 220.5 637 220.8 637.12 224.9 637.25 224.3 637.38 224.7 637.50 221.3 637.62 219.2 637.75 222.5 637.88 219.9 638 218.5 638.12 222.9 638.25 224.6 638.38 224.1 638.50 223.4 638.62 222.0 638.75 223.8 638.88 224.3 639 222.4 639.12 226.0 639.25 219.1 639.38 222.5 639.50 224.3 639.62 221.8 639.75 220.9 639.88 222.7 640 222.6 640.12 220.9 640.25 222.2 640.38 224.4 640.50 225.4 640.62 227.9 640.75 220.5 640.88 222.9 641 225.4 641.12 222.4 641.25 225.8 641.38 223.6 641.50 227.9 641.62 223.5 641.75 228.1 641.88 221.8 642 225.0 642.12 228.9 642.25 221.3 642.38 221.9 642.50 229.7 642.62 223.8 642.75 223.7 642.88 229.9 643 229.1 643.12 227.4 643.25 221.8 643.38 229.0 643.50 223.5 643.62 222.9 643.75 223.0 643.88 222.8 644 224.5 644.12 225.4 644.25 221.2 644.38 223.5 644.50 228.4 644.62 223.0 644.75 225.2 644.88 226.8 645 230.2 645.12 226.3 645.25 226.7 645.38 222.5 645.50 223.0 645.62 229.2 645.75 224.1 645.88 225.1 646 229.1 646.12 225.5 646.25 229.2 646.38 228.4 646.50 222.4 646.62 225.9 646.75 229.0 646.88 223.9 647 223.9 647.12 224.2 647.25 229.5 647.38 223.1 647.50 226.0 647.62 224.9 647.75 224.2 647.88 223.6 648 228.9 648.12 222.8 648.25 223.6 648.38 227.8 648.50 226.3 648.62 227.8 648.75 228.4 648.88 225.3 649 227.9 649.12 229.9 649.25 228.3 649.38 227.8 649.50 231.4 649.62 231.6 649.75 224.6 649.88 227.2 650 230.8 650.12 219.3 650.25 227.9 650.38 226.4 650.50 230.7 650.62 224.6 650.75 230.7 650.88 232.5 651 224.1 651.12 233.5 651.25 227.5 651.38 225.1 651.50 229.4 651.62 230.6 651.75 224.8 651.88 229.4 652 229.1 652.12 232.0 652.25 234.3 652.38 233.2 652.50 231.3 652.62 232.8 652.75 230.4 652.88 227.9 653 233.1 653.12 228.0 653.25 233.7 653.38 226.8 653.50 226.9 653.62 232.2 653.75 234.3 653.88 233.1 654 228.1 654.12 232.1 654.25 231.0 654.38 230.2 654.50 230.1 654.62 233.7 654.75 236.3 654.88 230.0 655 226.3 655.12 233.0 655.25 231.4 655.38 231.5 655.50 235.4 655.62 230.7 655.75 237.5 655.88 231.5 656 236.3 656.12 238.8 656.25 235.7 656.38 235.5 656.50 237.7 656.62 231.6 656.75 231.3 656.88 236.4 657 232.8 657.12 236.4 657.25 237.2 657.38 237.4 657.50 237.9 657.62 235.7 657.75 237.3 657.88 232.6 658 238.7 658.12 238.9 658.25 237.2 658.38 237.1 658.50 236.9 658.62 233.9 658.75 237.1 658.88 235.7 659 237.1 659.12 233.9 659.25 238.7 659.38 237.1 659.50 238.2 659.62 234.9 659.75 235.6 659.88 240.0 660 236.1 660.12 240.8 660.25 231.9 660.38 235.3 660.50 236.4 660.62 239.7 660.75 236.4 660.88 240.7 661 238.9 661.12 235.1 661.25 236.4 661.38 240.4 661.50 241.1 661.62 236.6 661.75 237.3 661.88 237.6 662 243.6 662.12 235.8 662.25 240.6 662.38 238.1 662.50 238.5 662.62 241.9 662.75 238.9 662.88 237.0 663 240.4 663.12 244.4 663.25 241.9 663.38 241.9 663.50 238.7 663.62 234.9 663.75 240.4 663.88 240.3 664 240.5 664.12 241.1 664.25 244.6 664.38 241.7 664.50 239.5 664.62 239.5 664.75 243.2 664.88 243.2 665 241.7 665.12 242.0 665.25 239.9 665.38 243.6 665.50 248.3 665.62 245.6 665.75 247.9 665.88 246.9 666 242.9 666.12 244.0 666.25 243.9 666.38 244.0 666.50 245.4 666.62 244.6 666.75 245.0 666.88 244.2 667 247.2 667.12 246.6 667.25 247.8 667.38 247.1 667.50 245.4 667.62 242.2 667.75 244.1 667.88 247.5 668 247.1 668.12 248.0 668.25 243.5 668.38 247.4 668.50 242.8 668.62 245.9 668.75 247.1 668.88 244.7 669 243.8 669.12 243.3 669.25 241.0 669.38 241.0 669.50 244.8 669.62 243.7 669.75 239.3 669.88 243.9 670 241.2 670.12 245.7 670.25 241.2 670.38 240.7 670.50 245.0 670.62 244.8 670.75 245.3 670.88 245.5 671 243.0 671.12 241.5 671.25 245.3 671.38 243.7 671.50 241.2 671.62 242.8 671.75 244.7 671.88 246.1 672 247.6 672.12 247.8 672.25 244.4 672.38 248.8 672.50 248.8 672.62 244.2 672.75 241.9 672.88 249.6 673 248.4 673.12 245.5 673.25 250.4 673.38 246.9 673.50 243.3 673.62 245.9 673.75 244.5 673.88 243.8 674 244.9 674.12 249.4 674.25 244.7 674.38 240.4 674.50 243.3 674.62 247.2 674.75 249.7 674.88 247.3 675 251.8 675.12 246.1 675.25 249.1 675.38 251.1 675.50 247.6 675.62 251.5 675.75 253.1 675.88 247.8 676 251.1 676.12 256.2 676.25 255.7 676.38 251.9 676.50 251.5 676.62 254.7 676.75 258.5 676.88 263.3 677 264.8 677.12 267.9 677.25 272.5 677.38 269.4 677.50 273.6 677.62 272.8 677.75 272.1 677.88 282.4 678 283.7 678.12 279.1 678.25 280.4 678.38 282.5 678.50 285.1 678.62 291.3 678.75 288.8 678.88 293.0 679 297.7 679.12 295.1 679.25 297.2 679.38 301.9 679.50 308.7 679.62 306.1 679.75 303.7 679.88 309.6 680 310.5 680.12 312.5 680.25 317.9 680.38 312.4 680.50 318.1 680.62 314.2 680.75 317.8 680.88 323.4 681 323.7 681.12 326.2 681.25 324.8 681.38 329.7 681.50 332.1 681.62 326.5 681.75 327.4 681.88 330.7 682 333.3 682.12 334.9 682.25 338.0 682.38 335.6 682.50 338.1 682.62 339.0 682.75 341.8 682.88 340.8 683 344.2 683.12 343.4 683.25 349.1 683.38 344.7 683.50 341.3 683.62 350.2 683.75 346.0 683.88 351.2 684 353.4 684.12 357.6 684.25 355.1 684.38 356.0 684.50 361.3 684.62 357.4 684.75 354.3 684.88 363.0 685 363.3 685.12 364.4 685.25 367.5 685.38 363.7 685.50 361.1 685.62 366.3 685.75 368.0 685.88 368.1 686 370.6" stroke="#000" fill="none" stroke-width="1.8" stroke-linejoin="round"/>
<path d="M43.30 466.65 43.80 464.74 44.30 462.83 44.80 460.92 45.30 459.00 45.80 457.09 46.30 455.18 46.80 453.26 47.30 450.95 47.80 448.37 48.30 445.78 48.80 443.20 49.30 440.62 49.80 438.03 50.30 434.45 50.80 430.20 51.30 425.95 51.80 421.70 52.30 417.00 52.80 412.00 53.30 407.00 53.80 402.00 54.30 397.75 54.80 394.00 55.30 390.25 55.80 386.50 56.30 383.27 56.80 380.38 57.30 377.50 57.80 374.62 58.30 371.73 58.80 368.75 59.30 365.62 59.80 362.50 60.30 359.38 60.80 356.25 61.30 353.59 61.80 351.23 62.30 348.87 62.80 345.71 63.30 342.35 63.80 340.18 64.30 338.81 64.80 337.44 65.30 336.07 65.80 335.13 M675.60 248.70 676.10 252.11 676.60 256.00 677.10 265.25 677.60 274.06 678.10 282.22 678.60 290.38 679.10 298.54 679.60 306.70 680.10 313.70 680.60 318.96 681.10 324.22 681.60 329.48 682.10 334.74 682.60 340.00 683.10 344.41 683.60 348.82 684.10 353.24 684.60 357.65 685.10 362.06 685.60 366.47" stroke="#000" fill="none" stroke-width="2.5" stroke-linejoin="round" stroke-linecap="round"/>
<text x="205.57" y="12.80" font-size="15.0" textLength="53.69" lengthAdjust="spacingAndGlyphs">K&#8722;band</text>
<text x="265.69" y="12.80" font-size="15.0" textLength="21.04" lengthAdjust="spacingAndGlyphs">RFI</text>
<text x="293.04" y="12.80" font-size="15.0" textLength="24.59" lengthAdjust="spacingAndGlyphs">plot</text>
<text x="325.41" y="12.80" font-size="15.0" textLength="42.53" lengthAdjust="spacingAndGlyphs">(mean</text>
<text x="374.81" y="12.80" font-size="15.0" textLength="45.50" lengthAdjust="spacingAndGlyphs">power)</text>
<text x="427.60" y="12.80" font-size="15.0" textLength="10.29" lengthAdjust="spacingAndGlyphs">&#8722;</text>
<text x="444.95" y="12.80" font-size="15.0" textLength="11.11" lengthAdjust="spacingAndGlyphs">IF</text>
<text x="463.21" y="12.80" font-size="15.0" textLength="10.30" lengthAdjust="spacingAndGlyphs">B</text>
<text x="479.92" y="12.80" font-size="15.0" textLength="10.34" lengthAdjust="spacingAndGlyphs">&#8722;</text>
<text x="497.58" y="12.80" font-size="15.0" textLength="33.52" lengthAdjust="spacingAndGlyphs">ea24</text>
<text x="493.44" y="102.40" font-size="15.0" textLength="15.32" lengthAdjust="spacingAndGlyphs">Az</text>
<text x="516.01" y="102.40" font-size="15.0" textLength="10.58" lengthAdjust="spacingAndGlyphs">=</text>
<text x="534.04" y="102.40" font-size="15.0" textLength="43.23" lengthAdjust="spacingAndGlyphs">359.6,</text>
<text x="583.94" y="102.40" font-size="15.0" textLength="11.73" lengthAdjust="spacingAndGlyphs">El</text>
<text x="602.88" y="102.40" font-size="15.0" textLength="10.47" lengthAdjust="spacingAndGlyphs">=</text>
<text x="620.70" y="102.40" font-size="15.0" textLength="30.07" lengthAdjust="spacingAndGlyphs">88.0</text>
<text x="309.32" y="534.70" font-size="15.0" textLength="64.97" lengthAdjust="spacingAndGlyphs">frequency</text>
<text x="381.76" y="534.70" font-size="15.0" textLength="38.33" lengthAdjust="spacingAndGlyphs">(MHz)</text>
<text transform="translate(12.80,302.74) rotate(-90)" x="0" y="0" font-size="15.0" textLength="39.87" lengthAdjust="spacingAndGlyphs">power</text>
<text transform="translate(12.80,255.91) rotate(-90)" x="0" y="0" font-size="15.0" textLength="28.51" lengthAdjust="spacingAndGlyphs">(dB)</text>
<text transform="translate(33.60,490.67) rotate(-90)" x="0" y="0" font-size="15.0" textLength="8.14" lengthAdjust="spacingAndGlyphs">0</text>
<text transform="translate(33.60,387.73) rotate(-90)" x="0" y="0" font-size="15.0" textLength="16.50" lengthAdjust="spacing">10</text>
<text transform="translate(33.60,281.70) rotate(-90)" x="0" y="0" font-size="15.0" textLength="17.38" lengthAdjust="spacing">20</text>
<text transform="translate(33.60,175.29) rotate(-90)" x="0" y="0" font-size="15.0" textLength="17.75" lengthAdjust="spacing">30</text>
<text transform="translate(33.60,68.10) rotate(-90)" x="0" y="0" font-size="15.0" textLength="17.00" lengthAdjust="spacing">40</text>
<text x="11.60" y="506.85" font-size="15.6" textLength="57.67" lengthAdjust="spacing">2.34&#215;10</text>
<text x="68.99" y="499.25" font-size="9.5" textLength="6.67" lengthAdjust="spacingAndGlyphs">4</text>
<text x="137.42" y="506.85" font-size="15.6" textLength="58.15" lengthAdjust="spacing">2.36&#215;10</text>
<text x="195.35" y="499.25" font-size="9.5" textLength="5.62" lengthAdjust="spacingAndGlyphs">4</text>
<text x="263.30" y="506.85" font-size="15.6" textLength="57.72" lengthAdjust="spacing">2.38&#215;10</text>
<text x="321.02" y="499.25" font-size="9.5" textLength="5.89" lengthAdjust="spacingAndGlyphs">4</text>
<text x="393.42" y="506.85" font-size="15.6" textLength="48.31" lengthAdjust="spacing">2.4&#215;10</text>
<text x="441.93" y="499.25" font-size="9.5" textLength="6.50" lengthAdjust="spacingAndGlyphs">4</text>
<text x="514.70" y="506.85" font-size="15.6" textLength="57.83" lengthAdjust="spacing">2.42&#215;10</text>
<text x="572.38" y="499.25" font-size="9.5" textLength="5.86" lengthAdjust="spacingAndGlyphs">4</text>
<text x="640.65" y="506.85" font-size="15.6" textLength="57.93" lengthAdjust="spacing">2.44&#215;10</text>
<text x="698.35" y="499.25" font-size="9.5" textLength="5.23" lengthAdjust="spacingAndGlyphs">4</text>
</svg>
</body></html>
